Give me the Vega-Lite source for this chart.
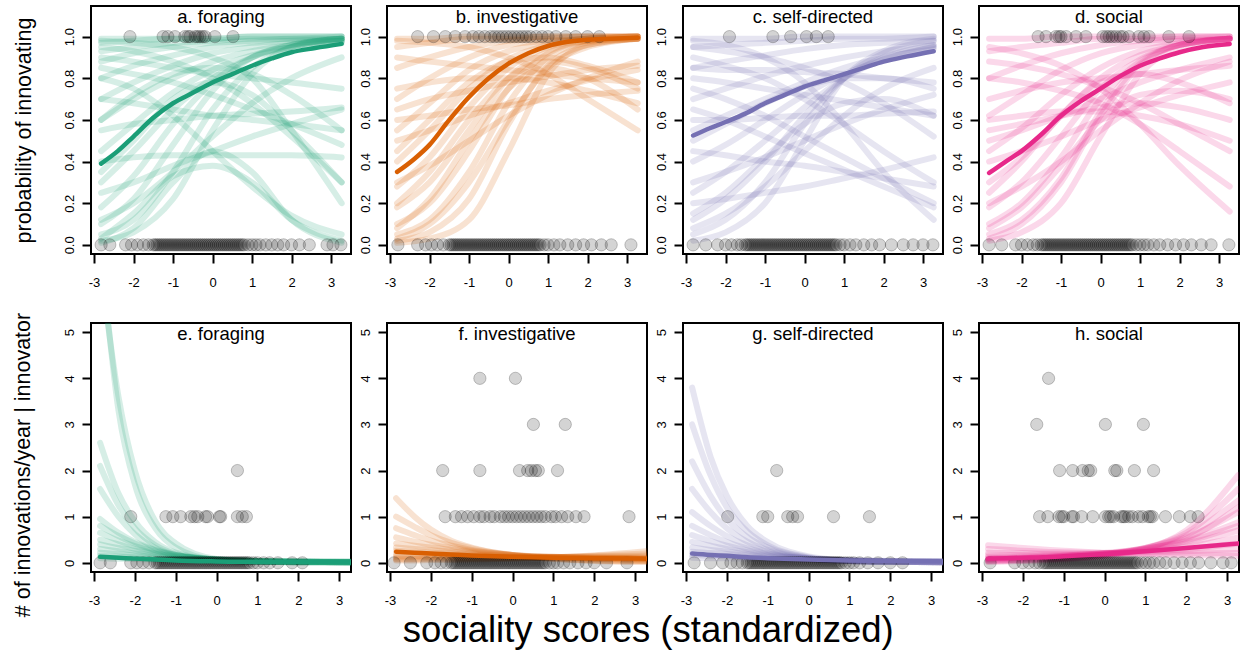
{
"$schema":"https://vega.github.io/schema/vega-lite/v6.json",
"padding":{"left":12,"top":5,"right":0,"bottom":0},
"title":{"text":"sociality scores (standardized)","orient":"bottom","anchor":"middle","fontSize":36.5,"offset":-4,"baseline":"top","dx":22,"color":"black","fontWeight":"normal","frame":"bounds"},
"datasets":{
"pa":[
{"g":1,"x":-2.82,"y":0.99},{"g":1,"x":-2,"y":0.99},{"g":1,"x":-1,"y":0.99},{"g":1,"x":0,"y":0.99},{"g":1,"x":1,"y":1},{"g":1,"x":2,"y":1},{"g":1,"x":3.27,"y":1},
{"g":2,"x":-2.82,"y":0.97},{"g":2,"x":-2,"y":0.98},{"g":2,"x":-1,"y":0.99},{"g":2,"x":0,"y":0.99},{"g":2,"x":1,"y":1},{"g":2,"x":2,"y":1},{"g":2,"x":3.27,"y":1},
{"g":3,"x":-2.82,"y":0.93},{"g":3,"x":-2,"y":0.95},{"g":3,"x":-1,"y":0.97},{"g":3,"x":0,"y":0.98},{"g":3,"x":1,"y":0.99},{"g":3,"x":2,"y":0.99},{"g":3,"x":3.27,"y":1},
{"g":4,"x":-2.82,"y":0.88},{"g":4,"x":-2,"y":0.92},{"g":4,"x":-1,"y":0.95},{"g":4,"x":0,"y":0.97},{"g":4,"x":1,"y":0.98},{"g":4,"x":2,"y":0.99},{"g":4,"x":3.27,"y":0.99},
{"g":5,"x":-2.82,"y":0.8},{"g":5,"x":-2,"y":0.86},{"g":5,"x":-1,"y":0.91},{"g":5,"x":0,"y":0.95},{"g":5,"x":1,"y":0.97},{"g":5,"x":2,"y":0.98},{"g":5,"x":3.27,"y":0.99},
{"g":6,"x":-2.82,"y":0.7},{"g":6,"x":-2,"y":0.78},{"g":6,"x":-1,"y":0.86},{"g":6,"x":0,"y":0.92},{"g":6,"x":1,"y":0.95},{"g":6,"x":2,"y":0.97},{"g":6,"x":3.27,"y":0.98},
{"g":7,"x":-2.82,"y":0.6},{"g":7,"x":-2,"y":0.7},{"g":7,"x":-1,"y":0.8},{"g":7,"x":0,"y":0.88},{"g":7,"x":1,"y":0.93},{"g":7,"x":2,"y":0.96},{"g":7,"x":3.27,"y":0.98},
{"g":8,"x":-2.82,"y":0.45},{"g":8,"x":-2,"y":0.58},{"g":8,"x":-1,"y":0.73},{"g":8,"x":0,"y":0.84},{"g":8,"x":1,"y":0.91},{"g":8,"x":2,"y":0.95},{"g":8,"x":3.27,"y":0.97},
{"g":9,"x":-2.82,"y":0.3},{"g":9,"x":-2,"y":0.45},{"g":9,"x":-1,"y":0.65},{"g":9,"x":0,"y":0.8},{"g":9,"x":1,"y":0.9},{"g":9,"x":2,"y":0.95},{"g":9,"x":3.27,"y":0.98},
{"g":10,"x":-2.82,"y":0.18},{"g":10,"x":-2,"y":0.33},{"g":10,"x":-1,"y":0.58},{"g":10,"x":0,"y":0.78},{"g":10,"x":1,"y":0.9},{"g":10,"x":2,"y":0.96},{"g":10,"x":3.27,"y":0.99},
{"g":11,"x":-2.82,"y":0.1},{"g":11,"x":-2,"y":0.22},{"g":11,"x":-1,"y":0.48},{"g":11,"x":0,"y":0.74},{"g":11,"x":1,"y":0.9},{"g":11,"x":2,"y":0.96},{"g":11,"x":3.27,"y":0.99},
{"g":12,"x":-2.82,"y":0.05},{"g":12,"x":-2,"y":0.12},{"g":12,"x":-1,"y":0.35},{"g":12,"x":0,"y":0.65},{"g":12,"x":1,"y":0.85},{"g":12,"x":2,"y":0.95},{"g":12,"x":3.27,"y":0.99},
{"g":13,"x":-2.82,"y":0.02},{"g":13,"x":-2,"y":0.06},{"g":13,"x":-1,"y":0.22},{"g":13,"x":0,"y":0.55},{"g":13,"x":1,"y":0.82},{"g":13,"x":2,"y":0.95},{"g":13,"x":3.27,"y":0.99},
{"g":14,"x":-2.82,"y":0.12},{"g":14,"x":-2,"y":0.2},{"g":14,"x":-1,"y":0.35},{"g":14,"x":0,"y":0.52},{"g":14,"x":1,"y":0.68},{"g":14,"x":2,"y":0.8},{"g":14,"x":3.27,"y":0.9},
{"g":15,"x":-2.82,"y":0.25},{"g":15,"x":-2,"y":0.3},{"g":15,"x":-1,"y":0.38},{"g":15,"x":0,"y":0.45},{"g":15,"x":1,"y":0.52},{"g":15,"x":2,"y":0.58},{"g":15,"x":3.27,"y":0.65},
{"g":16,"x":-2.82,"y":0.85},{"g":16,"x":-2,"y":0.82},{"g":16,"x":-1,"y":0.78},{"g":16,"x":0,"y":0.72},{"g":16,"x":1,"y":0.65},{"g":16,"x":2,"y":0.58},{"g":16,"x":3.27,"y":0.48},
{"g":17,"x":-2.82,"y":0.95},{"g":17,"x":-2,"y":0.93},{"g":17,"x":-1,"y":0.88},{"g":17,"x":0,"y":0.8},{"g":17,"x":1,"y":0.68},{"g":17,"x":2,"y":0.52},{"g":17,"x":3.27,"y":0.3},
{"g":18,"x":-2.82,"y":0.7},{"g":18,"x":-2,"y":0.68},{"g":18,"x":-1,"y":0.65},{"g":18,"x":0,"y":0.62},{"g":18,"x":1,"y":0.6},{"g":18,"x":2,"y":0.58},{"g":18,"x":3.27,"y":0.55},
{"g":19,"x":-2.82,"y":0.55},{"g":19,"x":-2,"y":0.58},{"g":19,"x":-1,"y":0.6},{"g":19,"x":0,"y":0.62},{"g":19,"x":1,"y":0.63},{"g":19,"x":2,"y":0.64},{"g":19,"x":3.27,"y":0.66},
{"g":20,"x":-2.82,"y":0.03},{"g":20,"x":-2,"y":0.15},{"g":20,"x":-1,"y":0.33},{"g":20,"x":0,"y":0.38},{"g":20,"x":1,"y":0.3},{"g":20,"x":2,"y":0.12},{"g":20,"x":3.27,"y":0.02},
{"g":21,"x":-2.82,"y":0.01},{"g":21,"x":-2,"y":0.08},{"g":21,"x":-1,"y":0.3},{"g":21,"x":0,"y":0.45},{"g":21,"x":1,"y":0.35},{"g":21,"x":2,"y":0.12},{"g":21,"x":3.27,"y":0.01},
{"g":22,"x":-2.82,"y":0.4},{"g":22,"x":-2,"y":0.42},{"g":22,"x":-1,"y":0.43},{"g":22,"x":0,"y":0.43},{"g":22,"x":1,"y":0.43},{"g":22,"x":2,"y":0.43},{"g":22,"x":3.27,"y":0.42},
{"g":23,"x":-2.82,"y":0.9},{"g":23,"x":-2,"y":0.88},{"g":23,"x":-1,"y":0.85},{"g":23,"x":0,"y":0.82},{"g":23,"x":1,"y":0.8},{"g":23,"x":2,"y":0.78},{"g":23,"x":3.27,"y":0.75},
{"g":24,"x":-2.82,"y":0.98},{"g":24,"x":-2,"y":0.97},{"g":24,"x":-1,"y":0.95},{"g":24,"x":0,"y":0.9},{"g":24,"x":1,"y":0.8},{"g":24,"x":2,"y":0.55},{"g":24,"x":3.27,"y":0.2},
{"g":25,"x":-2.82,"y":0.35},{"g":25,"x":-2,"y":0.5},{"g":25,"x":-1,"y":0.7},{"g":25,"x":0,"y":0.78},{"g":25,"x":1,"y":0.72},{"g":25,"x":2,"y":0.55},{"g":25,"x":3.27,"y":0.3},
{"g":26,"x":-2.82,"y":0.6},{"g":26,"x":-2,"y":0.72},{"g":26,"x":-1,"y":0.82},{"g":26,"x":0,"y":0.85},{"g":26,"x":1,"y":0.82},{"g":26,"x":2,"y":0.72},{"g":26,"x":3.27,"y":0.55},
{"g":27,"x":-2.82,"y":0.8},{"g":27,"x":-2,"y":0.75},{"g":27,"x":-1,"y":0.62},{"g":27,"x":0,"y":0.45},{"g":27,"x":1,"y":0.28},{"g":27,"x":2,"y":0.14},{"g":27,"x":3.27,"y":0.05},
{"g":0,"x":-2.82,"y":0.39},{"g":0,"x":-2.4,"y":0.45},{"g":0,"x":-2,"y":0.52},{"g":0,"x":-1.5,"y":0.61},{"g":0,"x":-1,"y":0.68},{"g":0,"x":-0.5,"y":0.73},{"g":0,"x":0,"y":0.78},{"g":0,"x":0.5,"y":0.82},{"g":0,"x":1,"y":0.86},{"g":0,"x":1.5,"y":0.895},{"g":0,"x":2,"y":0.925},{"g":0,"x":2.6,"y":0.945},{"g":0,"x":3.27,"y":0.965},
{"g":-1,"x":-2.09,"y":1},{"g":-1,"x":-1.25,"y":1},{"g":-1,"x":-1.13,"y":1},{"g":-1,"x":-0.95,"y":1},{"g":-1,"x":-0.7,"y":1},{"g":-1,"x":-0.62,"y":1},{"g":-1,"x":-0.57,"y":1},{"g":-1,"x":-0.44,"y":1},{"g":-1,"x":-0.38,"y":1},{"g":-1,"x":-0.32,"y":1},{"g":-1,"x":-0.25,"y":1},{"g":-1,"x":-0.19,"y":1},{"g":-1,"x":0.06,"y":1},{"g":-1,"x":0.52,"y":1},
{"g":-1,"x":-2.82,"y":0},{"g":-1,"x":-2.6,"y":0},{"g":-1,"x":-2.2,"y":0},{"g":-1,"x":-2.05,"y":0},{"g":-1,"x":-1.9,"y":0},{"g":-1,"x":-1.75,"y":0},{"g":-1,"x":-1.62,"y":0},
{"g":-1,"x":-1.5,"y":0},{"g":-1,"x":-1.45,"y":0},{"g":-1,"x":-1.4,"y":0},{"g":-1,"x":-1.35,"y":0},{"g":-1,"x":-1.3,"y":0},{"g":-1,"x":-1.25,"y":0},{"g":-1,"x":-1.2,"y":0},{"g":-1,"x":-1.15,"y":0},{"g":-1,"x":-1.1,"y":0},{"g":-1,"x":-1.05,"y":0},{"g":-1,"x":-1,"y":0},{"g":-1,"x":-0.95,"y":0},{"g":-1,"x":-0.9,"y":0},{"g":-1,"x":-0.85,"y":0},{"g":-1,"x":-0.8,"y":0},{"g":-1,"x":-0.75,"y":0},{"g":-1,"x":-0.7,"y":0},{"g":-1,"x":-0.65,"y":0},{"g":-1,"x":-0.6,"y":0},{"g":-1,"x":-0.55,"y":0},{"g":-1,"x":-0.5,"y":0},{"g":-1,"x":-0.45,"y":0},{"g":-1,"x":-0.4,"y":0},{"g":-1,"x":-0.35,"y":0},{"g":-1,"x":-0.3,"y":0},{"g":-1,"x":-0.25,"y":0},{"g":-1,"x":-0.2,"y":0},{"g":-1,"x":-0.15,"y":0},{"g":-1,"x":-0.1,"y":0},{"g":-1,"x":-0.05,"y":0},{"g":-1,"x":0,"y":0},{"g":-1,"x":0.05,"y":0},{"g":-1,"x":0.1,"y":0},{"g":-1,"x":0.15,"y":0},{"g":-1,"x":0.2,"y":0},{"g":-1,"x":0.25,"y":0},{"g":-1,"x":0.3,"y":0},{"g":-1,"x":0.35,"y":0},{"g":-1,"x":0.4,"y":0},{"g":-1,"x":0.45,"y":0},{"g":-1,"x":0.5,"y":0},{"g":-1,"x":0.55,"y":0},{"g":-1,"x":0.6,"y":0},{"g":-1,"x":0.65,"y":0},{"g":-1,"x":0.7,"y":0},{"g":-1,"x":0.75,"y":0},{"g":-1,"x":0.8,"y":0},
{"g":-1,"x":0.9,"y":0},{"g":-1,"x":1,"y":0},{"g":-1,"x":1.1,"y":0},{"g":-1,"x":1.2,"y":0},{"g":-1,"x":1.35,"y":0},{"g":-1,"x":1.5,"y":0},{"g":-1,"x":1.65,"y":0},{"g":-1,"x":1.8,"y":0},{"g":-1,"x":2,"y":0},{"g":-1,"x":2.2,"y":0},{"g":-1,"x":2.45,"y":0},{"g":-1,"x":2.9,"y":0},{"g":-1,"x":3.05,"y":0},{"g":-1,"x":3.25,"y":0}
],
"pb":[
{"g":1,"x":-2.82,"y":0.99},{"g":1,"x":-2,"y":0.99},{"g":1,"x":-1,"y":1},{"g":1,"x":0,"y":1},{"g":1,"x":1,"y":1},{"g":1,"x":2,"y":1},{"g":1,"x":3.27,"y":1},
{"g":2,"x":-2.82,"y":0.95},{"g":2,"x":-2,"y":0.97},{"g":2,"x":-1,"y":0.99},{"g":2,"x":0,"y":0.99},{"g":2,"x":1,"y":1},{"g":2,"x":2,"y":1},{"g":2,"x":3.27,"y":1},
{"g":3,"x":-2.82,"y":0.85},{"g":3,"x":-2,"y":0.9},{"g":3,"x":-1,"y":0.95},{"g":3,"x":0,"y":0.98},{"g":3,"x":1,"y":0.99},{"g":3,"x":2,"y":1},{"g":3,"x":3.27,"y":1},
{"g":4,"x":-2.82,"y":0.7},{"g":4,"x":-2,"y":0.8},{"g":4,"x":-1,"y":0.9},{"g":4,"x":0,"y":0.96},{"g":4,"x":1,"y":0.98},{"g":4,"x":2,"y":0.99},{"g":4,"x":3.27,"y":1},
{"g":5,"x":-2.82,"y":0.55},{"g":5,"x":-2,"y":0.68},{"g":5,"x":-1,"y":0.84},{"g":5,"x":0,"y":0.93},{"g":5,"x":1,"y":0.97},{"g":5,"x":2,"y":0.99},{"g":5,"x":3.27,"y":1},
{"g":6,"x":-2.82,"y":0.4},{"g":6,"x":-2,"y":0.55},{"g":6,"x":-1,"y":0.75},{"g":6,"x":0,"y":0.89},{"g":6,"x":1,"y":0.96},{"g":6,"x":2,"y":0.99},{"g":6,"x":3.27,"y":1},
{"g":7,"x":-2.82,"y":0.28},{"g":7,"x":-2,"y":0.42},{"g":7,"x":-1,"y":0.66},{"g":7,"x":0,"y":0.85},{"g":7,"x":1,"y":0.95},{"g":7,"x":2,"y":0.98},{"g":7,"x":3.27,"y":0.99},
{"g":8,"x":-2.82,"y":0.18},{"g":8,"x":-2,"y":0.3},{"g":8,"x":-1,"y":0.55},{"g":8,"x":0,"y":0.8},{"g":8,"x":1,"y":0.93},{"g":8,"x":2,"y":0.98},{"g":8,"x":3.27,"y":0.99},
{"g":9,"x":-2.82,"y":0.1},{"g":9,"x":-2,"y":0.2},{"g":9,"x":-1,"y":0.45},{"g":9,"x":0,"y":0.75},{"g":9,"x":1,"y":0.92},{"g":9,"x":2,"y":0.98},{"g":9,"x":3.27,"y":1},
{"g":10,"x":-2.82,"y":0.05},{"g":10,"x":-2,"y":0.12},{"g":10,"x":-1,"y":0.35},{"g":10,"x":0,"y":0.68},{"g":10,"x":1,"y":0.9},{"g":10,"x":2,"y":0.97},{"g":10,"x":3.27,"y":0.99},
{"g":11,"x":-2.82,"y":0.02},{"g":11,"x":-2,"y":0.06},{"g":11,"x":-1,"y":0.22},{"g":11,"x":0,"y":0.58},{"g":11,"x":1,"y":0.86},{"g":11,"x":2,"y":0.96},{"g":11,"x":3.27,"y":0.99},
{"g":12,"x":-2.82,"y":0.01},{"g":12,"x":-2,"y":0.03},{"g":12,"x":-1,"y":0.12},{"g":12,"x":0,"y":0.45},{"g":12,"x":1,"y":0.82},{"g":12,"x":2,"y":0.96},{"g":12,"x":3.27,"y":0.99},
{"g":13,"x":-2.82,"y":0.3},{"g":13,"x":-2,"y":0.38},{"g":13,"x":-1,"y":0.5},{"g":13,"x":0,"y":0.62},{"g":13,"x":1,"y":0.72},{"g":13,"x":2,"y":0.8},{"g":13,"x":3.27,"y":0.88},
{"g":14,"x":-2.82,"y":0.5},{"g":14,"x":-2,"y":0.55},{"g":14,"x":-1,"y":0.62},{"g":14,"x":0,"y":0.68},{"g":14,"x":1,"y":0.74},{"g":14,"x":2,"y":0.79},{"g":14,"x":3.27,"y":0.84},
{"g":15,"x":-2.82,"y":0.65},{"g":15,"x":-2,"y":0.7},{"g":15,"x":-1,"y":0.74},{"g":15,"x":0,"y":0.78},{"g":15,"x":1,"y":0.81},{"g":15,"x":2,"y":0.84},{"g":15,"x":3.27,"y":0.86},
{"g":16,"x":-2.82,"y":0.9},{"g":16,"x":-2,"y":0.88},{"g":16,"x":-1,"y":0.86},{"g":16,"x":0,"y":0.84},{"g":16,"x":1,"y":0.82},{"g":16,"x":2,"y":0.8},{"g":16,"x":3.27,"y":0.78},
{"g":17,"x":-2.82,"y":0.75},{"g":17,"x":-2,"y":0.78},{"g":17,"x":-1,"y":0.8},{"g":17,"x":0,"y":0.8},{"g":17,"x":1,"y":0.78},{"g":17,"x":2,"y":0.74},{"g":17,"x":3.27,"y":0.68},
{"g":18,"x":-2.82,"y":0.98},{"g":18,"x":-2,"y":0.97},{"g":18,"x":-1,"y":0.95},{"g":18,"x":0,"y":0.9},{"g":18,"x":1,"y":0.82},{"g":18,"x":2,"y":0.7},{"g":18,"x":3.27,"y":0.55},
{"g":19,"x":-2.82,"y":0.2},{"g":19,"x":-2,"y":0.35},{"g":19,"x":-1,"y":0.6},{"g":19,"x":0,"y":0.8},{"g":19,"x":1,"y":0.88},{"g":19,"x":2,"y":0.85},{"g":19,"x":3.27,"y":0.75},
{"g":20,"x":-2.82,"y":0.08},{"g":20,"x":-2,"y":0.22},{"g":20,"x":-1,"y":0.5},{"g":20,"x":0,"y":0.75},{"g":20,"x":1,"y":0.85},{"g":20,"x":2,"y":0.8},{"g":20,"x":3.27,"y":0.65},
{"g":21,"x":-2.82,"y":0.45},{"g":21,"x":-2,"y":0.6},{"g":21,"x":-1,"y":0.78},{"g":21,"x":0,"y":0.88},{"g":21,"x":1,"y":0.9},{"g":21,"x":2,"y":0.86},{"g":21,"x":3.27,"y":0.78},
{"g":22,"x":-2.82,"y":0.6},{"g":22,"x":-2,"y":0.62},{"g":22,"x":-1,"y":0.65},{"g":22,"x":0,"y":0.67},{"g":22,"x":1,"y":0.7},{"g":22,"x":2,"y":0.72},{"g":22,"x":3.27,"y":0.74},
{"g":23,"x":-2.82,"y":0.03},{"g":23,"x":-2,"y":0.1},{"g":23,"x":-1,"y":0.3},{"g":23,"x":0,"y":0.6},{"g":23,"x":1,"y":0.85},{"g":23,"x":2,"y":0.95},{"g":23,"x":3.27,"y":0.99},
{"g":0,"x":-2.82,"y":0.35},{"g":0,"x":-2.4,"y":0.41},{"g":0,"x":-2,"y":0.48},{"g":0,"x":-1.5,"y":0.6},{"g":0,"x":-1,"y":0.71},{"g":0,"x":-0.5,"y":0.8},{"g":0,"x":0,"y":0.87},{"g":0,"x":0.5,"y":0.92},{"g":0,"x":1,"y":0.955},{"g":0,"x":1.5,"y":0.975},{"g":0,"x":2,"y":0.985},{"g":0,"x":2.6,"y":0.99},{"g":0,"x":3.27,"y":0.995},
{"g":-1,"x":-2.3,"y":1},{"g":-1,"x":-1.9,"y":1},{"g":-1,"x":-1.6,"y":1},{"g":-1,"x":-1.35,"y":1},{"g":-1,"x":-1.1,"y":1},{"g":-1,"x":-0.9,"y":1},{"g":-1,"x":-0.75,"y":1},{"g":-1,"x":-0.6,"y":1},{"g":-1,"x":-0.45,"y":1},{"g":-1,"x":-0.35,"y":1},{"g":-1,"x":-0.25,"y":1},{"g":-1,"x":-0.15,"y":1},{"g":-1,"x":-0.05,"y":1},{"g":-1,"x":0.05,"y":1},{"g":-1,"x":0.15,"y":1},{"g":-1,"x":0.25,"y":1},{"g":-1,"x":0.35,"y":1},{"g":-1,"x":0.45,"y":1},{"g":-1,"x":0.55,"y":1},{"g":-1,"x":0.7,"y":1},{"g":-1,"x":0.85,"y":1},{"g":-1,"x":1,"y":1},{"g":-1,"x":1.2,"y":1},{"g":-1,"x":1.45,"y":1},{"g":-1,"x":1.7,"y":1},{"g":-1,"x":2,"y":1},{"g":-1,"x":2.3,"y":1},
{"g":-1,"x":-2.8,"y":0},{"g":-1,"x":-2.3,"y":0},{"g":-1,"x":-2.1,"y":0},{"g":-1,"x":-1.95,"y":0},{"g":-1,"x":-1.8,"y":0},{"g":-1,"x":-1.65,"y":0},
{"g":-1,"x":-1.5,"y":0},{"g":-1,"x":-1.45,"y":0},{"g":-1,"x":-1.4,"y":0},{"g":-1,"x":-1.35,"y":0},{"g":-1,"x":-1.3,"y":0},{"g":-1,"x":-1.25,"y":0},{"g":-1,"x":-1.2,"y":0},{"g":-1,"x":-1.15,"y":0},{"g":-1,"x":-1.1,"y":0},{"g":-1,"x":-1.05,"y":0},{"g":-1,"x":-1,"y":0},{"g":-1,"x":-0.95,"y":0},{"g":-1,"x":-0.9,"y":0},{"g":-1,"x":-0.85,"y":0},{"g":-1,"x":-0.8,"y":0},{"g":-1,"x":-0.75,"y":0},{"g":-1,"x":-0.7,"y":0},{"g":-1,"x":-0.65,"y":0},{"g":-1,"x":-0.6,"y":0},{"g":-1,"x":-0.55,"y":0},{"g":-1,"x":-0.5,"y":0},{"g":-1,"x":-0.45,"y":0},{"g":-1,"x":-0.4,"y":0},{"g":-1,"x":-0.35,"y":0},{"g":-1,"x":-0.3,"y":0},{"g":-1,"x":-0.25,"y":0},{"g":-1,"x":-0.2,"y":0},{"g":-1,"x":-0.15,"y":0},{"g":-1,"x":-0.1,"y":0},{"g":-1,"x":-0.05,"y":0},{"g":-1,"x":0,"y":0},{"g":-1,"x":0.05,"y":0},{"g":-1,"x":0.1,"y":0},{"g":-1,"x":0.15,"y":0},{"g":-1,"x":0.2,"y":0},{"g":-1,"x":0.25,"y":0},{"g":-1,"x":0.3,"y":0},{"g":-1,"x":0.35,"y":0},{"g":-1,"x":0.4,"y":0},{"g":-1,"x":0.45,"y":0},{"g":-1,"x":0.5,"y":0},{"g":-1,"x":0.55,"y":0},{"g":-1,"x":0.6,"y":0},{"g":-1,"x":0.65,"y":0},{"g":-1,"x":0.7,"y":0},{"g":-1,"x":0.75,"y":0},{"g":-1,"x":0.8,"y":0},
{"g":-1,"x":0.9,"y":0},{"g":-1,"x":1,"y":0},{"g":-1,"x":1.15,"y":0},{"g":-1,"x":1.3,"y":0},{"g":-1,"x":1.5,"y":0},{"g":-1,"x":1.7,"y":0},{"g":-1,"x":1.9,"y":0},{"g":-1,"x":2.1,"y":0},{"g":-1,"x":2.35,"y":0},{"g":-1,"x":2.6,"y":0},{"g":-1,"x":3.1,"y":0}
],
"pc":[
{"g":1,"x":-2.82,"y":0.99},{"g":1,"x":-2,"y":0.99},{"g":1,"x":-1,"y":0.99},{"g":1,"x":0,"y":1},{"g":1,"x":1,"y":1},{"g":1,"x":2,"y":1},{"g":1,"x":3.27,"y":1},
{"g":2,"x":-2.82,"y":0.95},{"g":2,"x":-2,"y":0.96},{"g":2,"x":-1,"y":0.97},{"g":2,"x":0,"y":0.98},{"g":2,"x":1,"y":0.99},{"g":2,"x":2,"y":0.99},{"g":2,"x":3.27,"y":1},
{"g":3,"x":-2.82,"y":0.85},{"g":3,"x":-2,"y":0.88},{"g":3,"x":-1,"y":0.91},{"g":3,"x":0,"y":0.94},{"g":3,"x":1,"y":0.96},{"g":3,"x":2,"y":0.97},{"g":3,"x":3.27,"y":0.98},
{"g":4,"x":-2.82,"y":0.7},{"g":4,"x":-2,"y":0.75},{"g":4,"x":-1,"y":0.81},{"g":4,"x":0,"y":0.86},{"g":4,"x":1,"y":0.9},{"g":4,"x":2,"y":0.93},{"g":4,"x":3.27,"y":0.96},
{"g":5,"x":-2.82,"y":0.55},{"g":5,"x":-2,"y":0.62},{"g":5,"x":-1,"y":0.7},{"g":5,"x":0,"y":0.78},{"g":5,"x":1,"y":0.85},{"g":5,"x":2,"y":0.9},{"g":5,"x":3.27,"y":0.94},
{"g":6,"x":-2.82,"y":0.4},{"g":6,"x":-2,"y":0.48},{"g":6,"x":-1,"y":0.6},{"g":6,"x":0,"y":0.72},{"g":6,"x":1,"y":0.82},{"g":6,"x":2,"y":0.89},{"g":6,"x":3.27,"y":0.95},
{"g":7,"x":-2.82,"y":0.25},{"g":7,"x":-2,"y":0.35},{"g":7,"x":-1,"y":0.5},{"g":7,"x":0,"y":0.66},{"g":7,"x":1,"y":0.8},{"g":7,"x":2,"y":0.89},{"g":7,"x":3.27,"y":0.95},
{"g":8,"x":-2.82,"y":0.12},{"g":8,"x":-2,"y":0.22},{"g":8,"x":-1,"y":0.4},{"g":8,"x":0,"y":0.62},{"g":8,"x":1,"y":0.8},{"g":8,"x":2,"y":0.9},{"g":8,"x":3.27,"y":0.96},
{"g":9,"x":-2.82,"y":0.05},{"g":9,"x":-2,"y":0.12},{"g":9,"x":-1,"y":0.3},{"g":9,"x":0,"y":0.58},{"g":9,"x":1,"y":0.8},{"g":9,"x":2,"y":0.92},{"g":9,"x":3.27,"y":0.98},
{"g":10,"x":-2.82,"y":0.02},{"g":10,"x":-2,"y":0.06},{"g":10,"x":-1,"y":0.2},{"g":10,"x":0,"y":0.5},{"g":10,"x":1,"y":0.8},{"g":10,"x":2,"y":0.93},{"g":10,"x":3.27,"y":0.99},
{"g":11,"x":-2.82,"y":0.3},{"g":11,"x":-2,"y":0.35},{"g":11,"x":-1,"y":0.42},{"g":11,"x":0,"y":0.5},{"g":11,"x":1,"y":0.58},{"g":11,"x":2,"y":0.65},{"g":11,"x":3.27,"y":0.72},
{"g":12,"x":-2.82,"y":0.6},{"g":12,"x":-2,"y":0.6},{"g":12,"x":-1,"y":0.61},{"g":12,"x":0,"y":0.62},{"g":12,"x":1,"y":0.62},{"g":12,"x":2,"y":0.63},{"g":12,"x":3.27,"y":0.64},
{"g":13,"x":-2.82,"y":0.8},{"g":13,"x":-2,"y":0.78},{"g":13,"x":-1,"y":0.75},{"g":13,"x":0,"y":0.72},{"g":13,"x":1,"y":0.69},{"g":13,"x":2,"y":0.66},{"g":13,"x":3.27,"y":0.62},
{"g":14,"x":-2.82,"y":0.95},{"g":14,"x":-2,"y":0.93},{"g":14,"x":-1,"y":0.9},{"g":14,"x":0,"y":0.85},{"g":14,"x":1,"y":0.78},{"g":14,"x":2,"y":0.68},{"g":14,"x":3.27,"y":0.52},
{"g":15,"x":-2.82,"y":0.9},{"g":15,"x":-2,"y":0.86},{"g":15,"x":-1,"y":0.8},{"g":15,"x":0,"y":0.7},{"g":15,"x":1,"y":0.58},{"g":15,"x":2,"y":0.45},{"g":15,"x":3.27,"y":0.3},
{"g":16,"x":-2.82,"y":0.75},{"g":16,"x":-2,"y":0.7},{"g":16,"x":-1,"y":0.62},{"g":16,"x":0,"y":0.52},{"g":16,"x":1,"y":0.42},{"g":16,"x":2,"y":0.32},{"g":16,"x":3.27,"y":0.2},
{"g":17,"x":-2.82,"y":0.65},{"g":17,"x":-2,"y":0.6},{"g":17,"x":-1,"y":0.52},{"g":17,"x":0,"y":0.44},{"g":17,"x":1,"y":0.36},{"g":17,"x":2,"y":0.28},{"g":17,"x":3.27,"y":0.18},
{"g":18,"x":-2.82,"y":0.45},{"g":18,"x":-2,"y":0.43},{"g":18,"x":-1,"y":0.4},{"g":18,"x":0,"y":0.38},{"g":18,"x":1,"y":0.35},{"g":18,"x":2,"y":0.32},{"g":18,"x":3.27,"y":0.28},
{"g":19,"x":-2.82,"y":0.98},{"g":19,"x":-2,"y":0.96},{"g":19,"x":-1,"y":0.9},{"g":19,"x":0,"y":0.78},{"g":19,"x":1,"y":0.58},{"g":19,"x":2,"y":0.35},{"g":19,"x":3.27,"y":0.12},
{"g":20,"x":-2.82,"y":0.15},{"g":20,"x":-2,"y":0.25},{"g":20,"x":-1,"y":0.42},{"g":20,"x":0,"y":0.58},{"g":20,"x":1,"y":0.68},{"g":20,"x":2,"y":0.7},{"g":20,"x":3.27,"y":0.62},
{"g":21,"x":-2.82,"y":0.5},{"g":21,"x":-2,"y":0.58},{"g":21,"x":-1,"y":0.68},{"g":21,"x":0,"y":0.76},{"g":21,"x":1,"y":0.8},{"g":21,"x":2,"y":0.8},{"g":21,"x":3.27,"y":0.75},
{"g":22,"x":-2.82,"y":0.85},{"g":22,"x":-2,"y":0.84},{"g":22,"x":-1,"y":0.84},{"g":22,"x":0,"y":0.83},{"g":22,"x":1,"y":0.82},{"g":22,"x":2,"y":0.8},{"g":22,"x":3.27,"y":0.78},
{"g":23,"x":-2.82,"y":0.2},{"g":23,"x":-2,"y":0.22},{"g":23,"x":-1,"y":0.25},{"g":23,"x":0,"y":0.28},{"g":23,"x":1,"y":0.32},{"g":23,"x":2,"y":0.36},{"g":23,"x":3.27,"y":0.42},
{"g":24,"x":-2.82,"y":0.08},{"g":24,"x":-2,"y":0.15},{"g":24,"x":-1,"y":0.28},{"g":24,"x":0,"y":0.45},{"g":24,"x":1,"y":0.62},{"g":24,"x":2,"y":0.75},{"g":24,"x":3.27,"y":0.85},
{"g":0,"x":-2.82,"y":0.525},{"g":0,"x":-2.4,"y":0.56},{"g":0,"x":-2,"y":0.59},{"g":0,"x":-1.5,"y":0.63},{"g":0,"x":-1,"y":0.68},{"g":0,"x":-0.5,"y":0.72},{"g":0,"x":0,"y":0.76},{"g":0,"x":0.5,"y":0.79},{"g":0,"x":1,"y":0.82},{"g":0,"x":1.5,"y":0.85},{"g":0,"x":2,"y":0.88},{"g":0,"x":2.6,"y":0.905},{"g":0,"x":3.27,"y":0.93},
{"g":-1,"x":-1.9,"y":1},{"g":-1,"x":-0.8,"y":1},{"g":-1,"x":-0.35,"y":1},{"g":-1,"x":0.05,"y":1},{"g":-1,"x":0.3,"y":1},{"g":-1,"x":0.6,"y":1},
{"g":-1,"x":-2.82,"y":0},{"g":-1,"x":-2.5,"y":0},{"g":-1,"x":-2.2,"y":0},{"g":-1,"x":-2,"y":0},{"g":-1,"x":-1.85,"y":0},{"g":-1,"x":-1.7,"y":0},{"g":-1,"x":-1.6,"y":0},
{"g":-1,"x":-1.5,"y":0},{"g":-1,"x":-1.45,"y":0},{"g":-1,"x":-1.4,"y":0},{"g":-1,"x":-1.35,"y":0},{"g":-1,"x":-1.3,"y":0},{"g":-1,"x":-1.25,"y":0},{"g":-1,"x":-1.2,"y":0},{"g":-1,"x":-1.15,"y":0},{"g":-1,"x":-1.1,"y":0},{"g":-1,"x":-1.05,"y":0},{"g":-1,"x":-1,"y":0},{"g":-1,"x":-0.95,"y":0},{"g":-1,"x":-0.9,"y":0},{"g":-1,"x":-0.85,"y":0},{"g":-1,"x":-0.8,"y":0},{"g":-1,"x":-0.75,"y":0},{"g":-1,"x":-0.7,"y":0},{"g":-1,"x":-0.65,"y":0},{"g":-1,"x":-0.6,"y":0},{"g":-1,"x":-0.55,"y":0},{"g":-1,"x":-0.5,"y":0},{"g":-1,"x":-0.45,"y":0},{"g":-1,"x":-0.4,"y":0},{"g":-1,"x":-0.35,"y":0},{"g":-1,"x":-0.3,"y":0},{"g":-1,"x":-0.25,"y":0},{"g":-1,"x":-0.2,"y":0},{"g":-1,"x":-0.15,"y":0},{"g":-1,"x":-0.1,"y":0},{"g":-1,"x":-0.05,"y":0},{"g":-1,"x":0,"y":0},{"g":-1,"x":0.05,"y":0},{"g":-1,"x":0.1,"y":0},{"g":-1,"x":0.15,"y":0},{"g":-1,"x":0.2,"y":0},{"g":-1,"x":0.25,"y":0},{"g":-1,"x":0.3,"y":0},{"g":-1,"x":0.35,"y":0},{"g":-1,"x":0.4,"y":0},{"g":-1,"x":0.45,"y":0},{"g":-1,"x":0.5,"y":0},{"g":-1,"x":0.55,"y":0},{"g":-1,"x":0.6,"y":0},{"g":-1,"x":0.65,"y":0},{"g":-1,"x":0.7,"y":0},{"g":-1,"x":0.75,"y":0},{"g":-1,"x":0.8,"y":0},
{"g":-1,"x":0.9,"y":0},{"g":-1,"x":1,"y":0},{"g":-1,"x":1.15,"y":0},{"g":-1,"x":1.3,"y":0},{"g":-1,"x":1.5,"y":0},{"g":-1,"x":1.7,"y":0},{"g":-1,"x":1.9,"y":0},{"g":-1,"x":2.2,"y":0},{"g":-1,"x":2.5,"y":0},{"g":-1,"x":2.75,"y":0},{"g":-1,"x":3,"y":0},{"g":-1,"x":3.25,"y":0}
],
"pd":[
{"g":1,"x":-2.82,"y":0.99},{"g":1,"x":-2,"y":0.99},{"g":1,"x":-1,"y":1},{"g":1,"x":0,"y":1},{"g":1,"x":1,"y":1},{"g":1,"x":2,"y":1},{"g":1,"x":3.27,"y":1},
{"g":2,"x":-2.82,"y":0.93},{"g":2,"x":-2,"y":0.95},{"g":2,"x":-1,"y":0.97},{"g":2,"x":0,"y":0.99},{"g":2,"x":1,"y":0.99},{"g":2,"x":2,"y":1},{"g":2,"x":3.27,"y":1},
{"g":3,"x":-2.82,"y":0.8},{"g":3,"x":-2,"y":0.86},{"g":3,"x":-1,"y":0.92},{"g":3,"x":0,"y":0.96},{"g":3,"x":1,"y":0.98},{"g":3,"x":2,"y":0.99},{"g":3,"x":3.27,"y":1},
{"g":4,"x":-2.82,"y":0.62},{"g":4,"x":-2,"y":0.72},{"g":4,"x":-1,"y":0.84},{"g":4,"x":0,"y":0.92},{"g":4,"x":1,"y":0.96},{"g":4,"x":2,"y":0.98},{"g":4,"x":3.27,"y":0.99},
{"g":5,"x":-2.82,"y":0.45},{"g":5,"x":-2,"y":0.56},{"g":5,"x":-1,"y":0.72},{"g":5,"x":0,"y":0.85},{"g":5,"x":1,"y":0.93},{"g":5,"x":2,"y":0.97},{"g":5,"x":3.27,"y":0.99},
{"g":6,"x":-2.82,"y":0.3},{"g":6,"x":-2,"y":0.42},{"g":6,"x":-1,"y":0.62},{"g":6,"x":0,"y":0.8},{"g":6,"x":1,"y":0.91},{"g":6,"x":2,"y":0.96},{"g":6,"x":3.27,"y":0.99},
{"g":7,"x":-2.82,"y":0.18},{"g":7,"x":-2,"y":0.3},{"g":7,"x":-1,"y":0.52},{"g":7,"x":0,"y":0.75},{"g":7,"x":1,"y":0.89},{"g":7,"x":2,"y":0.96},{"g":7,"x":3.27,"y":0.99},
{"g":8,"x":-2.82,"y":0.1},{"g":8,"x":-2,"y":0.2},{"g":8,"x":-1,"y":0.42},{"g":8,"x":0,"y":0.7},{"g":8,"x":1,"y":0.88},{"g":8,"x":2,"y":0.96},{"g":8,"x":3.27,"y":0.99},
{"g":9,"x":-2.82,"y":0.05},{"g":9,"x":-2,"y":0.12},{"g":9,"x":-1,"y":0.32},{"g":9,"x":0,"y":0.64},{"g":9,"x":1,"y":0.87},{"g":9,"x":2,"y":0.96},{"g":9,"x":3.27,"y":0.99},
{"g":10,"x":-2.82,"y":0.02},{"g":10,"x":-2,"y":0.06},{"g":10,"x":-1,"y":0.2},{"g":10,"x":0,"y":0.52},{"g":10,"x":1,"y":0.82},{"g":10,"x":2,"y":0.95},{"g":10,"x":3.27,"y":0.99},
{"g":11,"x":-2.82,"y":0.2},{"g":11,"x":-2,"y":0.28},{"g":11,"x":-1,"y":0.4},{"g":11,"x":0,"y":0.55},{"g":11,"x":1,"y":0.68},{"g":11,"x":2,"y":0.79},{"g":11,"x":3.27,"y":0.88},
{"g":12,"x":-2.82,"y":0.4},{"g":12,"x":-2,"y":0.45},{"g":12,"x":-1,"y":0.52},{"g":12,"x":0,"y":0.6},{"g":12,"x":1,"y":0.66},{"g":12,"x":2,"y":0.72},{"g":12,"x":3.27,"y":0.78},
{"g":13,"x":-2.82,"y":0.7},{"g":13,"x":-2,"y":0.74},{"g":13,"x":-1,"y":0.78},{"g":13,"x":0,"y":0.8},{"g":13,"x":1,"y":0.82},{"g":13,"x":2,"y":0.84},{"g":13,"x":3.27,"y":0.86},
{"g":14,"x":-2.82,"y":0.88},{"g":14,"x":-2,"y":0.86},{"g":14,"x":-1,"y":0.82},{"g":14,"x":0,"y":0.76},{"g":14,"x":1,"y":0.68},{"g":14,"x":2,"y":0.58},{"g":14,"x":3.27,"y":0.45},
{"g":15,"x":-2.82,"y":0.8},{"g":15,"x":-2,"y":0.78},{"g":15,"x":-1,"y":0.74},{"g":15,"x":0,"y":0.68},{"g":15,"x":1,"y":0.58},{"g":15,"x":2,"y":0.45},{"g":15,"x":3.27,"y":0.28},
{"g":16,"x":-2.82,"y":0.95},{"g":16,"x":-2,"y":0.92},{"g":16,"x":-1,"y":0.86},{"g":16,"x":0,"y":0.75},{"g":16,"x":1,"y":0.58},{"g":16,"x":2,"y":0.38},{"g":16,"x":3.27,"y":0.16},
{"g":17,"x":-2.82,"y":0.6},{"g":17,"x":-2,"y":0.62},{"g":17,"x":-1,"y":0.64},{"g":17,"x":0,"y":0.64},{"g":17,"x":1,"y":0.62},{"g":17,"x":2,"y":0.58},{"g":17,"x":3.27,"y":0.5},
{"g":18,"x":-2.82,"y":0.55},{"g":18,"x":-2,"y":0.58},{"g":18,"x":-1,"y":0.62},{"g":18,"x":0,"y":0.66},{"g":18,"x":1,"y":0.68},{"g":18,"x":2,"y":0.66},{"g":18,"x":3.27,"y":0.6},
{"g":19,"x":-2.82,"y":0.08},{"g":19,"x":-2,"y":0.18},{"g":19,"x":-1,"y":0.38},{"g":19,"x":0,"y":0.6},{"g":19,"x":1,"y":0.72},{"g":19,"x":2,"y":0.74},{"g":19,"x":3.27,"y":0.7},
{"g":20,"x":-2.82,"y":0.25},{"g":20,"x":-2,"y":0.4},{"g":20,"x":-1,"y":0.62},{"g":20,"x":0,"y":0.78},{"g":20,"x":1,"y":0.82},{"g":20,"x":2,"y":0.78},{"g":20,"x":3.27,"y":0.68},
{"g":21,"x":-2.82,"y":0.5},{"g":21,"x":-2,"y":0.55},{"g":21,"x":-1,"y":0.62},{"g":21,"x":0,"y":0.7},{"g":21,"x":1,"y":0.78},{"g":21,"x":2,"y":0.84},{"g":21,"x":3.27,"y":0.9},
{"g":22,"x":-2.82,"y":0.03},{"g":22,"x":-2,"y":0.1},{"g":22,"x":-1,"y":0.3},{"g":22,"x":0,"y":0.62},{"g":22,"x":1,"y":0.86},{"g":22,"x":2,"y":0.96},{"g":22,"x":3.27,"y":0.99},
{"g":0,"x":-2.82,"y":0.345},{"g":0,"x":-2.4,"y":0.4},{"g":0,"x":-2,"y":0.45},{"g":0,"x":-1.5,"y":0.53},{"g":0,"x":-1,"y":0.62},{"g":0,"x":-0.5,"y":0.69},{"g":0,"x":0,"y":0.75},{"g":0,"x":0.5,"y":0.81},{"g":0,"x":1,"y":0.86},{"g":0,"x":1.5,"y":0.895},{"g":0,"x":2,"y":0.925},{"g":0,"x":2.6,"y":0.95},{"g":0,"x":3.27,"y":0.965},
{"g":-1,"x":-1.58,"y":1},{"g":-1,"x":-1.38,"y":1},{"g":-1,"x":-1.13,"y":1},{"g":-1,"x":-1.05,"y":1},{"g":-1,"x":-1,"y":1},{"g":-1,"x":-0.87,"y":1},{"g":-1,"x":-0.62,"y":1},{"g":-1,"x":-0.37,"y":1},{"g":-1,"x":0.06,"y":1},{"g":-1,"x":0.15,"y":1},{"g":-1,"x":0.22,"y":1},{"g":-1,"x":0.3,"y":1},{"g":-1,"x":0.39,"y":1},{"g":-1,"x":0.5,"y":1},{"g":-1,"x":0.57,"y":1},{"g":-1,"x":0.72,"y":1},{"g":-1,"x":0.97,"y":1},{"g":-1,"x":1.1,"y":1},{"g":-1,"x":1.23,"y":1},{"g":-1,"x":1.73,"y":1},{"g":-1,"x":2.24,"y":1},
{"g":-1,"x":-2.82,"y":0},{"g":-1,"x":-2.5,"y":0},{"g":-1,"x":-2.15,"y":0},{"g":-1,"x":-2,"y":0},{"g":-1,"x":-1.85,"y":0},{"g":-1,"x":-1.7,"y":0},{"g":-1,"x":-1.6,"y":0},
{"g":-1,"x":-1.5,"y":0},{"g":-1,"x":-1.45,"y":0},{"g":-1,"x":-1.4,"y":0},{"g":-1,"x":-1.35,"y":0},{"g":-1,"x":-1.3,"y":0},{"g":-1,"x":-1.25,"y":0},{"g":-1,"x":-1.2,"y":0},{"g":-1,"x":-1.15,"y":0},{"g":-1,"x":-1.1,"y":0},{"g":-1,"x":-1.05,"y":0},{"g":-1,"x":-1,"y":0},{"g":-1,"x":-0.95,"y":0},{"g":-1,"x":-0.9,"y":0},{"g":-1,"x":-0.85,"y":0},{"g":-1,"x":-0.8,"y":0},{"g":-1,"x":-0.75,"y":0},{"g":-1,"x":-0.7,"y":0},{"g":-1,"x":-0.65,"y":0},{"g":-1,"x":-0.6,"y":0},{"g":-1,"x":-0.55,"y":0},{"g":-1,"x":-0.5,"y":0},{"g":-1,"x":-0.45,"y":0},{"g":-1,"x":-0.4,"y":0},{"g":-1,"x":-0.35,"y":0},{"g":-1,"x":-0.3,"y":0},{"g":-1,"x":-0.25,"y":0},{"g":-1,"x":-0.2,"y":0},{"g":-1,"x":-0.15,"y":0},{"g":-1,"x":-0.1,"y":0},{"g":-1,"x":-0.05,"y":0},{"g":-1,"x":0,"y":0},{"g":-1,"x":0.05,"y":0},{"g":-1,"x":0.1,"y":0},{"g":-1,"x":0.15,"y":0},{"g":-1,"x":0.2,"y":0},{"g":-1,"x":0.25,"y":0},{"g":-1,"x":0.3,"y":0},{"g":-1,"x":0.35,"y":0},{"g":-1,"x":0.4,"y":0},{"g":-1,"x":0.45,"y":0},{"g":-1,"x":0.5,"y":0},{"g":-1,"x":0.55,"y":0},{"g":-1,"x":0.6,"y":0},{"g":-1,"x":0.65,"y":0},{"g":-1,"x":0.7,"y":0},{"g":-1,"x":0.75,"y":0},{"g":-1,"x":0.8,"y":0},
{"g":-1,"x":0.9,"y":0},{"g":-1,"x":1,"y":0},{"g":-1,"x":1.1,"y":0},{"g":-1,"x":1.2,"y":0},{"g":-1,"x":1.35,"y":0},{"g":-1,"x":1.5,"y":0},{"g":-1,"x":1.7,"y":0},{"g":-1,"x":1.9,"y":0},{"g":-1,"x":2.1,"y":0},{"g":-1,"x":2.3,"y":0},{"g":-1,"x":2.55,"y":0},{"g":-1,"x":2.8,"y":0},{"g":-1,"x":3.25,"y":0}
],
"pe":[
{"g":1,"x":-2.85,"y":7},{"g":1,"x":-2.4,"y":3.3},{"g":1,"x":-2,"y":1.7},{"g":1,"x":-1.5,"y":0.75},{"g":1,"x":-1,"y":0.33},{"g":1,"x":0,"y":0.06},{"g":1,"x":1,"y":0.02},{"g":1,"x":2,"y":0.01},{"g":1,"x":3.27,"y":0.01},
{"g":2,"x":-2.85,"y":6.5},{"g":2,"x":-2.4,"y":3.6},{"g":2,"x":-2,"y":2.0},{"g":2,"x":-1.5,"y":0.9},{"g":2,"x":-1,"y":0.42},{"g":2,"x":0,"y":0.08},{"g":2,"x":1,"y":0.02},{"g":2,"x":2,"y":0.01},{"g":2,"x":3.27,"y":0.01},
{"g":3,"x":-2.85,"y":2.6},{"g":3,"x":-2.4,"y":1.5},{"g":3,"x":-2,"y":0.9},{"g":3,"x":-1.5,"y":0.45},{"g":3,"x":-1,"y":0.22},{"g":3,"x":0,"y":0.06},{"g":3,"x":1,"y":0.02},{"g":3,"x":2,"y":0.01},{"g":3,"x":3.27,"y":0.01},
{"g":4,"x":-2.85,"y":2.1},{"g":4,"x":-2.4,"y":1.25},{"g":4,"x":-2,"y":0.75},{"g":4,"x":-1.5,"y":0.38},{"g":4,"x":-1,"y":0.19},{"g":4,"x":0,"y":0.05},{"g":4,"x":1,"y":0.02},{"g":4,"x":2,"y":0.01},{"g":4,"x":3.27,"y":0.01},
{"g":5,"x":-2.85,"y":1.6},{"g":5,"x":-2.4,"y":1.0},{"g":5,"x":-2,"y":0.62},{"g":5,"x":-1.5,"y":0.32},{"g":5,"x":-1,"y":0.17},{"g":5,"x":0,"y":0.05},{"g":5,"x":1,"y":0.02},{"g":5,"x":2,"y":0.01},{"g":5,"x":3.27,"y":0.01},
{"g":6,"x":-2.85,"y":0.95},{"g":6,"x":-2.4,"y":0.65},{"g":6,"x":-2,"y":0.45},{"g":6,"x":-1.5,"y":0.28},{"g":6,"x":-1,"y":0.17},{"g":6,"x":0,"y":0.06},{"g":6,"x":1,"y":0.03},{"g":6,"x":2,"y":0.02},{"g":6,"x":3.27,"y":0.01},
{"g":7,"x":-2.85,"y":0.8},{"g":7,"x":-2.4,"y":0.58},{"g":7,"x":-2,"y":0.42},{"g":7,"x":-1.5,"y":0.27},{"g":7,"x":-1,"y":0.17},{"g":7,"x":0,"y":0.07},{"g":7,"x":1,"y":0.03},{"g":7,"x":2,"y":0.02},{"g":7,"x":3.27,"y":0.01},
{"g":8,"x":-2.85,"y":0.65},{"g":8,"x":-2.4,"y":0.48},{"g":8,"x":-2,"y":0.36},{"g":8,"x":-1.5,"y":0.24},{"g":8,"x":-1,"y":0.16},{"g":8,"x":0,"y":0.07},{"g":8,"x":1,"y":0.03},{"g":8,"x":2,"y":0.02},{"g":8,"x":3.27,"y":0.01},
{"g":9,"x":-2.85,"y":0.5},{"g":9,"x":-2.4,"y":0.4},{"g":9,"x":-2,"y":0.3},{"g":9,"x":-1.5,"y":0.21},{"g":9,"x":-1,"y":0.14},{"g":9,"x":0,"y":0.07},{"g":9,"x":1,"y":0.04},{"g":9,"x":2,"y":0.02},{"g":9,"x":3.27,"y":0.01},
{"g":10,"x":-2.85,"y":0.4},{"g":10,"x":-2.4,"y":0.32},{"g":10,"x":-2,"y":0.26},{"g":10,"x":-1.5,"y":0.19},{"g":10,"x":-1,"y":0.14},{"g":10,"x":0,"y":0.07},{"g":10,"x":1,"y":0.04},{"g":10,"x":2,"y":0.02},{"g":10,"x":3.27,"y":0.01},
{"g":11,"x":-2.85,"y":0.3},{"g":11,"x":-2.4,"y":0.25},{"g":11,"x":-2,"y":0.2},{"g":11,"x":-1.5,"y":0.16},{"g":11,"x":-1,"y":0.12},{"g":11,"x":0,"y":0.07},{"g":11,"x":1,"y":0.04},{"g":11,"x":2,"y":0.02},{"g":11,"x":3.27,"y":0.01},
{"g":12,"x":-2.85,"y":0.22},{"g":12,"x":-2.4,"y":0.19},{"g":12,"x":-2,"y":0.16},{"g":12,"x":-1.5,"y":0.13},{"g":12,"x":-1,"y":0.1},{"g":12,"x":0,"y":0.06},{"g":12,"x":1,"y":0.04},{"g":12,"x":2,"y":0.03},{"g":12,"x":3.27,"y":0.02},
{"g":13,"x":-2.85,"y":0.15},{"g":13,"x":-2.4,"y":0.13},{"g":13,"x":-2,"y":0.12},{"g":13,"x":-1.5,"y":0.1},{"g":13,"x":-1,"y":0.08},{"g":13,"x":0,"y":0.06},{"g":13,"x":1,"y":0.04},{"g":13,"x":2,"y":0.03},{"g":13,"x":3.27,"y":0.02},
{"g":14,"x":-2.85,"y":0.1},{"g":14,"x":-2.4,"y":0.09},{"g":14,"x":-2,"y":0.08},{"g":14,"x":-1.5,"y":0.07},{"g":14,"x":-1,"y":0.06},{"g":14,"x":0,"y":0.05},{"g":14,"x":1,"y":0.04},{"g":14,"x":2,"y":0.03},{"g":14,"x":3.27,"y":0.03},
{"g":0,"x":-2.85,"y":0.13},{"g":0,"x":-2.4,"y":0.11},{"g":0,"x":-2,"y":0.09},{"g":0,"x":-1.5,"y":0.07},{"g":0,"x":-1,"y":0.05},{"g":0,"x":0,"y":0.03},{"g":0,"x":1,"y":0.02},{"g":0,"x":2,"y":0.02},{"g":0,"x":3.27,"y":0.015},
{"g":-1,"x":0.51,"y":2},
{"g":-1,"x":-2.1,"y":1},{"g":-1,"x":-1.24,"y":1},{"g":-1,"x":-1.07,"y":1},{"g":-1,"x":-0.88,"y":1},{"g":-1,"x":-0.63,"y":1},{"g":-1,"x":-0.54,"y":1},{"g":-1,"x":-0.46,"y":1},{"g":-1,"x":-0.27,"y":1},{"g":-1,"x":-0.22,"y":1},{"g":-1,"x":0.07,"y":1},{"g":-1,"x":0.1,"y":1},{"g":-1,"x":0.51,"y":1},{"g":-1,"x":0.63,"y":1},{"g":-1,"x":0.73,"y":1},
{"g":-1,"x":-2.85,"y":0},{"g":-1,"x":-2.6,"y":0},{"g":-1,"x":-2.1,"y":0},{"g":-1,"x":-1.95,"y":0},{"g":-1,"x":-1.8,"y":0},{"g":-1,"x":-1.65,"y":0},
{"g":-1,"x":-1.5,"y":0},{"g":-1,"x":-1.45,"y":0},{"g":-1,"x":-1.4,"y":0},{"g":-1,"x":-1.35,"y":0},{"g":-1,"x":-1.3,"y":0},{"g":-1,"x":-1.25,"y":0},{"g":-1,"x":-1.2,"y":0},{"g":-1,"x":-1.15,"y":0},{"g":-1,"x":-1.1,"y":0},{"g":-1,"x":-1.05,"y":0},{"g":-1,"x":-1,"y":0},{"g":-1,"x":-0.95,"y":0},{"g":-1,"x":-0.9,"y":0},{"g":-1,"x":-0.85,"y":0},{"g":-1,"x":-0.8,"y":0},{"g":-1,"x":-0.75,"y":0},{"g":-1,"x":-0.7,"y":0},{"g":-1,"x":-0.65,"y":0},{"g":-1,"x":-0.6,"y":0},{"g":-1,"x":-0.55,"y":0},{"g":-1,"x":-0.5,"y":0},{"g":-1,"x":-0.45,"y":0},{"g":-1,"x":-0.4,"y":0},{"g":-1,"x":-0.35,"y":0},{"g":-1,"x":-0.3,"y":0},{"g":-1,"x":-0.25,"y":0},{"g":-1,"x":-0.2,"y":0},{"g":-1,"x":-0.15,"y":0},{"g":-1,"x":-0.1,"y":0},{"g":-1,"x":-0.05,"y":0},{"g":-1,"x":0,"y":0},{"g":-1,"x":0.05,"y":0},{"g":-1,"x":0.1,"y":0},{"g":-1,"x":0.15,"y":0},{"g":-1,"x":0.2,"y":0},{"g":-1,"x":0.25,"y":0},{"g":-1,"x":0.3,"y":0},{"g":-1,"x":0.35,"y":0},{"g":-1,"x":0.4,"y":0},{"g":-1,"x":0.45,"y":0},{"g":-1,"x":0.5,"y":0},{"g":-1,"x":0.55,"y":0},{"g":-1,"x":0.6,"y":0},{"g":-1,"x":0.65,"y":0},{"g":-1,"x":0.7,"y":0},{"g":-1,"x":0.75,"y":0},{"g":-1,"x":0.8,"y":0},
{"g":-1,"x":0.9,"y":0},{"g":-1,"x":1,"y":0},{"g":-1,"x":1.15,"y":0},{"g":-1,"x":1.3,"y":0},{"g":-1,"x":1.5,"y":0},{"g":-1,"x":1.85,"y":0},{"g":-1,"x":2.1,"y":0}
],
"pf":[
{"g":1,"x":-2.85,"y":1.4},{"g":1,"x":-2.4,"y":1.0},{"g":1,"x":-2,"y":0.72},{"g":1,"x":-1.5,"y":0.48},{"g":1,"x":-1,"y":0.33},{"g":1,"x":0,"y":0.16},{"g":1,"x":1,"y":0.08},{"g":1,"x":2,"y":0.04},{"g":1,"x":3.27,"y":0.02},
{"g":2,"x":-2.85,"y":1.0},{"g":2,"x":-2.4,"y":0.78},{"g":2,"x":-2,"y":0.6},{"g":2,"x":-1.5,"y":0.43},{"g":2,"x":-1,"y":0.31},{"g":2,"x":0,"y":0.17},{"g":2,"x":1,"y":0.09},{"g":2,"x":2,"y":0.05},{"g":2,"x":3.27,"y":0.03},
{"g":3,"x":-2.85,"y":0.75},{"g":3,"x":-2.4,"y":0.6},{"g":3,"x":-2,"y":0.48},{"g":3,"x":-1.5,"y":0.37},{"g":3,"x":-1,"y":0.28},{"g":3,"x":0,"y":0.17},{"g":3,"x":1,"y":0.1},{"g":3,"x":2,"y":0.06},{"g":3,"x":3.27,"y":0.04},
{"g":4,"x":-2.85,"y":0.55},{"g":4,"x":-2.4,"y":0.46},{"g":4,"x":-2,"y":0.39},{"g":4,"x":-1.5,"y":0.32},{"g":4,"x":-1,"y":0.26},{"g":4,"x":0,"y":0.17},{"g":4,"x":1,"y":0.11},{"g":4,"x":2,"y":0.08},{"g":4,"x":3.27,"y":0.05},
{"g":5,"x":-2.85,"y":0.42},{"g":5,"x":-2.4,"y":0.37},{"g":5,"x":-2,"y":0.33},{"g":5,"x":-1.5,"y":0.28},{"g":5,"x":-1,"y":0.24},{"g":5,"x":0,"y":0.17},{"g":5,"x":1,"y":0.12},{"g":5,"x":2,"y":0.09},{"g":5,"x":3.27,"y":0.07},
{"g":6,"x":-2.85,"y":0.33},{"g":6,"x":-2.4,"y":0.3},{"g":6,"x":-2,"y":0.27},{"g":6,"x":-1.5,"y":0.24},{"g":6,"x":-1,"y":0.21},{"g":6,"x":0,"y":0.16},{"g":6,"x":1,"y":0.13},{"g":6,"x":2,"y":0.1},{"g":6,"x":3.27,"y":0.08},
{"g":7,"x":-2.85,"y":0.26},{"g":7,"x":-2.4,"y":0.24},{"g":7,"x":-2,"y":0.22},{"g":7,"x":-1.5,"y":0.2},{"g":7,"x":-1,"y":0.18},{"g":7,"x":0,"y":0.15},{"g":7,"x":1,"y":0.13},{"g":7,"x":2,"y":0.11},{"g":7,"x":3.27,"y":0.09},
{"g":8,"x":-2.85,"y":0.2},{"g":8,"x":-2.4,"y":0.19},{"g":8,"x":-2,"y":0.18},{"g":8,"x":-1.5,"y":0.17},{"g":8,"x":-1,"y":0.16},{"g":8,"x":0,"y":0.14},{"g":8,"x":1,"y":0.12},{"g":8,"x":2,"y":0.11},{"g":8,"x":3.27,"y":0.1},
{"g":9,"x":-2.85,"y":0.15},{"g":9,"x":-2.4,"y":0.15},{"g":9,"x":-2,"y":0.14},{"g":9,"x":-1.5,"y":0.14},{"g":9,"x":-1,"y":0.13},{"g":9,"x":0,"y":0.12},{"g":9,"x":1,"y":0.12},{"g":9,"x":2,"y":0.11},{"g":9,"x":3.27,"y":0.11},
{"g":10,"x":-2.85,"y":0.12},{"g":10,"x":-2.4,"y":0.12},{"g":10,"x":-2,"y":0.12},{"g":10,"x":-1.5,"y":0.12},{"g":10,"x":-1,"y":0.12},{"g":10,"x":0,"y":0.12},{"g":10,"x":1,"y":0.12},{"g":10,"x":2,"y":0.13},{"g":10,"x":3.27,"y":0.13},
{"g":11,"x":-2.85,"y":0.09},{"g":11,"x":-2.4,"y":0.09},{"g":11,"x":-2,"y":0.1},{"g":11,"x":-1.5,"y":0.1},{"g":11,"x":-1,"y":0.1},{"g":11,"x":0,"y":0.11},{"g":11,"x":1,"y":0.12},{"g":11,"x":2,"y":0.14},{"g":11,"x":3.27,"y":0.16},
{"g":12,"x":-2.85,"y":0.07},{"g":12,"x":-2.4,"y":0.07},{"g":12,"x":-2,"y":0.08},{"g":12,"x":-1.5,"y":0.08},{"g":12,"x":-1,"y":0.09},{"g":12,"x":0,"y":0.1},{"g":12,"x":1,"y":0.12},{"g":12,"x":2,"y":0.15},{"g":12,"x":3.27,"y":0.2},
{"g":13,"x":-2.85,"y":0.05},{"g":13,"x":-2.4,"y":0.05},{"g":13,"x":-2,"y":0.06},{"g":13,"x":-1.5,"y":0.06},{"g":13,"x":-1,"y":0.07},{"g":13,"x":0,"y":0.09},{"g":13,"x":1,"y":0.12},{"g":13,"x":2,"y":0.16},{"g":13,"x":3.27,"y":0.25},
{"g":0,"x":-2.85,"y":0.24},{"g":0,"x":-2.4,"y":0.22},{"g":0,"x":-2,"y":0.2},{"g":0,"x":-1.5,"y":0.18},{"g":0,"x":-1,"y":0.16},{"g":0,"x":0,"y":0.13},{"g":0,"x":1,"y":0.11},{"g":0,"x":2,"y":0.1},{"g":0,"x":3.27,"y":0.09},
{"g":-1,"x":-0.8,"y":4},{"g":-1,"x":0.07,"y":4},
{"g":-1,"x":0.51,"y":3},{"g":-1,"x":1.29,"y":3},
{"g":-1,"x":-1.71,"y":2},{"g":-1,"x":-0.8,"y":2},{"g":-1,"x":0.17,"y":2},{"g":-1,"x":0.37,"y":2},{"g":-1,"x":0.46,"y":2},{"g":-1,"x":0.56,"y":2},{"g":-1,"x":0.63,"y":2},{"g":-1,"x":1.1,"y":2},
{"g":-1,"x":-1.65,"y":1},{"g":-1,"x":-1.4,"y":1},{"g":-1,"x":-1.25,"y":1},{"g":-1,"x":-1.1,"y":1},{"g":-1,"x":-0.95,"y":1},{"g":-1,"x":-0.8,"y":1},{"g":-1,"x":-0.7,"y":1},{"g":-1,"x":-0.55,"y":1},{"g":-1,"x":-0.45,"y":1},{"g":-1,"x":-0.3,"y":1},{"g":-1,"x":-0.2,"y":1},{"g":-1,"x":-0.1,"y":1},{"g":-1,"x":0,"y":1},{"g":-1,"x":0.1,"y":1},{"g":-1,"x":0.2,"y":1},{"g":-1,"x":0.3,"y":1},{"g":-1,"x":0.4,"y":1},{"g":-1,"x":0.5,"y":1},{"g":-1,"x":0.6,"y":1},{"g":-1,"x":0.7,"y":1},{"g":-1,"x":0.8,"y":1},{"g":-1,"x":0.95,"y":1},{"g":-1,"x":1.05,"y":1},{"g":-1,"x":1.2,"y":1},{"g":-1,"x":1.35,"y":1},{"g":-1,"x":1.55,"y":1},{"g":-1,"x":1.75,"y":1},{"g":-1,"x":2.85,"y":1},
{"g":-1,"x":-2.9,"y":0},{"g":-1,"x":-2.5,"y":0},{"g":-1,"x":-2.1,"y":0},{"g":-1,"x":-1.9,"y":0},{"g":-1,"x":-1.75,"y":0},{"g":-1,"x":-1.62,"y":0},
{"g":-1,"x":-1.5,"y":0},{"g":-1,"x":-1.45,"y":0},{"g":-1,"x":-1.4,"y":0},{"g":-1,"x":-1.35,"y":0},{"g":-1,"x":-1.3,"y":0},{"g":-1,"x":-1.25,"y":0},{"g":-1,"x":-1.2,"y":0},{"g":-1,"x":-1.15,"y":0},{"g":-1,"x":-1.1,"y":0},{"g":-1,"x":-1.05,"y":0},{"g":-1,"x":-1,"y":0},{"g":-1,"x":-0.95,"y":0},{"g":-1,"x":-0.9,"y":0},{"g":-1,"x":-0.85,"y":0},{"g":-1,"x":-0.8,"y":0},{"g":-1,"x":-0.75,"y":0},{"g":-1,"x":-0.7,"y":0},{"g":-1,"x":-0.65,"y":0},{"g":-1,"x":-0.6,"y":0},{"g":-1,"x":-0.55,"y":0},{"g":-1,"x":-0.5,"y":0},{"g":-1,"x":-0.45,"y":0},{"g":-1,"x":-0.4,"y":0},{"g":-1,"x":-0.35,"y":0},{"g":-1,"x":-0.3,"y":0},{"g":-1,"x":-0.25,"y":0},{"g":-1,"x":-0.2,"y":0},{"g":-1,"x":-0.15,"y":0},{"g":-1,"x":-0.1,"y":0},{"g":-1,"x":-0.05,"y":0},{"g":-1,"x":0,"y":0},{"g":-1,"x":0.05,"y":0},{"g":-1,"x":0.1,"y":0},{"g":-1,"x":0.15,"y":0},{"g":-1,"x":0.2,"y":0},{"g":-1,"x":0.25,"y":0},{"g":-1,"x":0.3,"y":0},{"g":-1,"x":0.35,"y":0},{"g":-1,"x":0.4,"y":0},{"g":-1,"x":0.45,"y":0},{"g":-1,"x":0.5,"y":0},{"g":-1,"x":0.55,"y":0},{"g":-1,"x":0.6,"y":0},{"g":-1,"x":0.65,"y":0},{"g":-1,"x":0.7,"y":0},{"g":-1,"x":0.75,"y":0},{"g":-1,"x":0.8,"y":0},
{"g":-1,"x":0.9,"y":0},{"g":-1,"x":1,"y":0},{"g":-1,"x":1.1,"y":0},{"g":-1,"x":1.25,"y":0},{"g":-1,"x":1.4,"y":0},{"g":-1,"x":1.6,"y":0},{"g":-1,"x":1.8,"y":0},{"g":-1,"x":2,"y":0},{"g":-1,"x":2.3,"y":0},{"g":-1,"x":2.8,"y":0}
],
"pg":[
{"g":1,"x":-2.85,"y":3.8},{"g":1,"x":-2.4,"y":2.3},{"g":1,"x":-2,"y":1.45},{"g":1,"x":-1.5,"y":0.8},{"g":1,"x":-1,"y":0.45},{"g":1,"x":0,"y":0.14},{"g":1,"x":1,"y":0.05},{"g":1,"x":2,"y":0.02},{"g":1,"x":3.27,"y":0.01},
{"g":2,"x":-2.85,"y":3.0},{"g":2,"x":-2.4,"y":1.9},{"g":2,"x":-2,"y":1.2},{"g":2,"x":-1.5,"y":0.68},{"g":2,"x":-1,"y":0.38},{"g":2,"x":0,"y":0.12},{"g":2,"x":1,"y":0.04},{"g":2,"x":2,"y":0.02},{"g":2,"x":3.27,"y":0.01},
{"g":3,"x":-2.85,"y":2.2},{"g":3,"x":-2.4,"y":1.45},{"g":3,"x":-2,"y":0.95},{"g":3,"x":-1.5,"y":0.56},{"g":3,"x":-1,"y":0.33},{"g":3,"x":0,"y":0.11},{"g":3,"x":1,"y":0.04},{"g":3,"x":2,"y":0.02},{"g":3,"x":3.27,"y":0.01},
{"g":4,"x":-2.85,"y":1.6},{"g":4,"x":-2.4,"y":1.1},{"g":4,"x":-2,"y":0.75},{"g":4,"x":-1.5,"y":0.46},{"g":4,"x":-1,"y":0.28},{"g":4,"x":0,"y":0.1},{"g":4,"x":1,"y":0.04},{"g":4,"x":2,"y":0.02},{"g":4,"x":3.27,"y":0.01},
{"g":5,"x":-2.85,"y":1.1},{"g":5,"x":-2.4,"y":0.8},{"g":5,"x":-2,"y":0.58},{"g":5,"x":-1.5,"y":0.38},{"g":5,"x":-1,"y":0.24},{"g":5,"x":0,"y":0.1},{"g":5,"x":1,"y":0.04},{"g":5,"x":2,"y":0.02},{"g":5,"x":3.27,"y":0.01},
{"g":6,"x":-2.85,"y":0.8},{"g":6,"x":-2.4,"y":0.6},{"g":6,"x":-2,"y":0.45},{"g":6,"x":-1.5,"y":0.31},{"g":6,"x":-1,"y":0.21},{"g":6,"x":0,"y":0.09},{"g":6,"x":1,"y":0.04},{"g":6,"x":2,"y":0.02},{"g":6,"x":3.27,"y":0.01},
{"g":7,"x":-2.85,"y":0.6},{"g":7,"x":-2.4,"y":0.47},{"g":7,"x":-2,"y":0.37},{"g":7,"x":-1.5,"y":0.27},{"g":7,"x":-1,"y":0.19},{"g":7,"x":0,"y":0.09},{"g":7,"x":1,"y":0.05},{"g":7,"x":2,"y":0.02},{"g":7,"x":3.27,"y":0.01},
{"g":8,"x":-2.85,"y":0.45},{"g":8,"x":-2.4,"y":0.37},{"g":8,"x":-2,"y":0.3},{"g":8,"x":-1.5,"y":0.23},{"g":8,"x":-1,"y":0.17},{"g":8,"x":0,"y":0.09},{"g":8,"x":1,"y":0.05},{"g":8,"x":2,"y":0.03},{"g":8,"x":3.27,"y":0.02},
{"g":9,"x":-2.85,"y":0.33},{"g":9,"x":-2.4,"y":0.28},{"g":9,"x":-2,"y":0.24},{"g":9,"x":-1.5,"y":0.19},{"g":9,"x":-1,"y":0.15},{"g":9,"x":0,"y":0.09},{"g":9,"x":1,"y":0.05},{"g":9,"x":2,"y":0.03},{"g":9,"x":3.27,"y":0.02},
{"g":10,"x":-2.85,"y":0.24},{"g":10,"x":-2.4,"y":0.21},{"g":10,"x":-2,"y":0.19},{"g":10,"x":-1.5,"y":0.16},{"g":10,"x":-1,"y":0.13},{"g":10,"x":0,"y":0.08},{"g":10,"x":1,"y":0.05},{"g":10,"x":2,"y":0.04},{"g":10,"x":3.27,"y":0.03},
{"g":11,"x":-2.85,"y":0.17},{"g":11,"x":-2.4,"y":0.15},{"g":11,"x":-2,"y":0.14},{"g":11,"x":-1.5,"y":0.12},{"g":11,"x":-1,"y":0.1},{"g":11,"x":0,"y":0.07},{"g":11,"x":1,"y":0.05},{"g":11,"x":2,"y":0.04},{"g":11,"x":3.27,"y":0.03},
{"g":12,"x":-2.85,"y":0.11},{"g":12,"x":-2.4,"y":0.1},{"g":12,"x":-2,"y":0.1},{"g":12,"x":-1.5,"y":0.09},{"g":12,"x":-1,"y":0.08},{"g":12,"x":0,"y":0.06},{"g":12,"x":1,"y":0.05},{"g":12,"x":2,"y":0.04},{"g":12,"x":3.27,"y":0.04},
{"g":0,"x":-2.85,"y":0.2},{"g":0,"x":-2.4,"y":0.17},{"g":0,"x":-2,"y":0.15},{"g":0,"x":-1.5,"y":0.12},{"g":0,"x":-1,"y":0.1},{"g":0,"x":0,"y":0.07},{"g":0,"x":1,"y":0.05},{"g":0,"x":2,"y":0.04},{"g":0,"x":3.27,"y":0.03},
{"g":-1,"x":-0.78,"y":2},
{"g":-1,"x":-1.98,"y":1},{"g":-1,"x":-1.12,"y":1},{"g":-1,"x":-1,"y":1},{"g":-1,"x":-0.51,"y":1},{"g":-1,"x":-0.39,"y":1},{"g":-1,"x":-0.27,"y":1},{"g":-1,"x":0.61,"y":1},{"g":-1,"x":1.49,"y":1},
{"g":-1,"x":-2.8,"y":0},{"g":-1,"x":-2.4,"y":0},{"g":-1,"x":-2.1,"y":0},{"g":-1,"x":-1.9,"y":0},{"g":-1,"x":-1.75,"y":0},{"g":-1,"x":-1.62,"y":0},
{"g":-1,"x":-1.5,"y":0},{"g":-1,"x":-1.45,"y":0},{"g":-1,"x":-1.4,"y":0},{"g":-1,"x":-1.35,"y":0},{"g":-1,"x":-1.3,"y":0},{"g":-1,"x":-1.25,"y":0},{"g":-1,"x":-1.2,"y":0},{"g":-1,"x":-1.15,"y":0},{"g":-1,"x":-1.1,"y":0},{"g":-1,"x":-1.05,"y":0},{"g":-1,"x":-1,"y":0},{"g":-1,"x":-0.95,"y":0},{"g":-1,"x":-0.9,"y":0},{"g":-1,"x":-0.85,"y":0},{"g":-1,"x":-0.8,"y":0},{"g":-1,"x":-0.75,"y":0},{"g":-1,"x":-0.7,"y":0},{"g":-1,"x":-0.65,"y":0},{"g":-1,"x":-0.6,"y":0},{"g":-1,"x":-0.55,"y":0},{"g":-1,"x":-0.5,"y":0},{"g":-1,"x":-0.45,"y":0},{"g":-1,"x":-0.4,"y":0},{"g":-1,"x":-0.35,"y":0},{"g":-1,"x":-0.3,"y":0},{"g":-1,"x":-0.25,"y":0},{"g":-1,"x":-0.2,"y":0},{"g":-1,"x":-0.15,"y":0},{"g":-1,"x":-0.1,"y":0},{"g":-1,"x":-0.05,"y":0},{"g":-1,"x":0,"y":0},{"g":-1,"x":0.05,"y":0},{"g":-1,"x":0.1,"y":0},{"g":-1,"x":0.15,"y":0},{"g":-1,"x":0.2,"y":0},{"g":-1,"x":0.25,"y":0},{"g":-1,"x":0.3,"y":0},{"g":-1,"x":0.35,"y":0},{"g":-1,"x":0.4,"y":0},{"g":-1,"x":0.45,"y":0},{"g":-1,"x":0.5,"y":0},{"g":-1,"x":0.55,"y":0},{"g":-1,"x":0.6,"y":0},{"g":-1,"x":0.65,"y":0},{"g":-1,"x":0.7,"y":0},{"g":-1,"x":0.75,"y":0},{"g":-1,"x":0.8,"y":0},
{"g":-1,"x":0.9,"y":0},{"g":-1,"x":1,"y":0},{"g":-1,"x":1.1,"y":0},{"g":-1,"x":1.25,"y":0},{"g":-1,"x":1.45,"y":0},{"g":-1,"x":1.7,"y":0},{"g":-1,"x":2,"y":0},{"g":-1,"x":2.3,"y":0}
],
"ph":[
{"g":1,"x":-2.85,"y":0.02},{"g":1,"x":-2.4,"y":0.03},{"g":1,"x":-2,"y":0.04},{"g":1,"x":-1.5,"y":0.05},{"g":1,"x":-1,"y":0.07},{"g":1,"x":0,"y":0.14},{"g":1,"x":1,"y":0.3},{"g":1,"x":2,"y":0.7},{"g":1,"x":3.27,"y":1.9},
{"g":2,"x":-2.85,"y":0.03},{"g":2,"x":-2.4,"y":0.04},{"g":2,"x":-2,"y":0.05},{"g":2,"x":-1.5,"y":0.07},{"g":2,"x":-1,"y":0.09},{"g":2,"x":0,"y":0.16},{"g":2,"x":1,"y":0.32},{"g":2,"x":2,"y":0.65},{"g":2,"x":3.27,"y":1.6},
{"g":3,"x":-2.85,"y":0.04},{"g":3,"x":-2.4,"y":0.05},{"g":3,"x":-2,"y":0.06},{"g":3,"x":-1.5,"y":0.08},{"g":3,"x":-1,"y":0.1},{"g":3,"x":0,"y":0.17},{"g":3,"x":1,"y":0.32},{"g":3,"x":2,"y":0.6},{"g":3,"x":3.27,"y":1.35},
{"g":4,"x":-2.85,"y":0.06},{"g":4,"x":-2.4,"y":0.07},{"g":4,"x":-2,"y":0.08},{"g":4,"x":-1.5,"y":0.1},{"g":4,"x":-1,"y":0.12},{"g":4,"x":0,"y":0.19},{"g":4,"x":1,"y":0.32},{"g":4,"x":2,"y":0.55},{"g":4,"x":3.27,"y":1.1},
{"g":5,"x":-2.85,"y":0.08},{"g":5,"x":-2.4,"y":0.09},{"g":5,"x":-2,"y":0.1},{"g":5,"x":-1.5,"y":0.12},{"g":5,"x":-1,"y":0.14},{"g":5,"x":0,"y":0.2},{"g":5,"x":1,"y":0.3},{"g":5,"x":2,"y":0.48},{"g":5,"x":3.27,"y":0.88},
{"g":6,"x":-2.85,"y":0.1},{"g":6,"x":-2.4,"y":0.11},{"g":6,"x":-2,"y":0.12},{"g":6,"x":-1.5,"y":0.13},{"g":6,"x":-1,"y":0.15},{"g":6,"x":0,"y":0.2},{"g":6,"x":1,"y":0.28},{"g":6,"x":2,"y":0.42},{"g":6,"x":3.27,"y":0.7},
{"g":7,"x":-2.85,"y":0.13},{"g":7,"x":-2.4,"y":0.14},{"g":7,"x":-2,"y":0.14},{"g":7,"x":-1.5,"y":0.15},{"g":7,"x":-1,"y":0.16},{"g":7,"x":0,"y":0.2},{"g":7,"x":1,"y":0.26},{"g":7,"x":2,"y":0.35},{"g":7,"x":3.27,"y":0.55},
{"g":8,"x":-2.85,"y":0.17},{"g":8,"x":-2.4,"y":0.17},{"g":8,"x":-2,"y":0.17},{"g":8,"x":-1.5,"y":0.18},{"g":8,"x":-1,"y":0.18},{"g":8,"x":0,"y":0.2},{"g":8,"x":1,"y":0.24},{"g":8,"x":2,"y":0.3},{"g":8,"x":3.27,"y":0.42},
{"g":9,"x":-2.85,"y":0.22},{"g":9,"x":-2.4,"y":0.21},{"g":9,"x":-2,"y":0.21},{"g":9,"x":-1.5,"y":0.2},{"g":9,"x":-1,"y":0.2},{"g":9,"x":0,"y":0.2},{"g":9,"x":1,"y":0.22},{"g":9,"x":2,"y":0.25},{"g":9,"x":3.27,"y":0.3},
{"g":10,"x":-2.85,"y":0.3},{"g":10,"x":-2.4,"y":0.28},{"g":10,"x":-2,"y":0.26},{"g":10,"x":-1.5,"y":0.24},{"g":10,"x":-1,"y":0.23},{"g":10,"x":0,"y":0.21},{"g":10,"x":1,"y":0.2},{"g":10,"x":2,"y":0.2},{"g":10,"x":3.27,"y":0.21},
{"g":11,"x":-2.85,"y":0.38},{"g":11,"x":-2.4,"y":0.35},{"g":11,"x":-2,"y":0.32},{"g":11,"x":-1.5,"y":0.29},{"g":11,"x":-1,"y":0.26},{"g":11,"x":0,"y":0.22},{"g":11,"x":1,"y":0.19},{"g":11,"x":2,"y":0.17},{"g":11,"x":3.27,"y":0.15},
{"g":12,"x":-2.85,"y":0.05},{"g":12,"x":-2.4,"y":0.06},{"g":12,"x":-2,"y":0.07},{"g":12,"x":-1.5,"y":0.09},{"g":12,"x":-1,"y":0.11},{"g":12,"x":0,"y":0.18},{"g":12,"x":1,"y":0.3},{"g":12,"x":2,"y":0.52},{"g":12,"x":3.27,"y":1.2},
{"g":13,"x":-2.85,"y":0.09},{"g":13,"x":-2.4,"y":0.1},{"g":13,"x":-2,"y":0.11},{"g":13,"x":-1.5,"y":0.13},{"g":13,"x":-1,"y":0.15},{"g":13,"x":0,"y":0.21},{"g":13,"x":1,"y":0.31},{"g":13,"x":2,"y":0.46},{"g":13,"x":3.27,"y":0.8},
{"g":0,"x":-2.85,"y":0.09},{"g":0,"x":-2.4,"y":0.1},{"g":0,"x":-2,"y":0.11},{"g":0,"x":-1.5,"y":0.12},{"g":0,"x":-1,"y":0.14},{"g":0,"x":0,"y":0.19},{"g":0,"x":1,"y":0.25},{"g":0,"x":2,"y":0.32},{"g":0,"x":3.27,"y":0.42},
{"g":-1,"x":-1.37,"y":4},
{"g":-1,"x":-1.66,"y":3},{"g":-1,"x":0.02,"y":3},{"g":-1,"x":0.95,"y":3},
{"g":-1,"x":-1.1,"y":2},{"g":-1,"x":-0.78,"y":2},{"g":-1,"x":-0.54,"y":2},{"g":-1,"x":-0.4,"y":2},{"g":-1,"x":-0.34,"y":2},{"g":-1,"x":0.25,"y":2},{"g":-1,"x":0.3,"y":2},{"g":-1,"x":0.73,"y":2},{"g":-1,"x":1.2,"y":2},
{"g":-1,"x":-1.59,"y":1},{"g":-1,"x":-1.39,"y":1},{"g":-1,"x":-1.12,"y":1},{"g":-1,"x":-1.05,"y":1},{"g":-1,"x":-1,"y":1},{"g":-1,"x":-0.8,"y":1},{"g":-1,"x":-0.76,"y":1},{"g":-1,"x":-0.56,"y":1},{"g":-1,"x":-0.29,"y":1},{"g":-1,"x":0.02,"y":1},{"g":-1,"x":0.1,"y":1},{"g":-1,"x":0.15,"y":1},{"g":-1,"x":0.22,"y":1},{"g":-1,"x":0.41,"y":1},{"g":-1,"x":0.46,"y":1},{"g":-1,"x":0.5,"y":1},{"g":-1,"x":0.59,"y":1},{"g":-1,"x":0.68,"y":1},{"g":-1,"x":0.83,"y":1},{"g":-1,"x":0.93,"y":1},{"g":-1,"x":1.07,"y":1},{"g":-1,"x":1.12,"y":1},{"g":-1,"x":1.17,"y":1},{"g":-1,"x":1.49,"y":1},{"g":-1,"x":1.83,"y":1},{"g":-1,"x":2.1,"y":1},{"g":-1,"x":2.29,"y":1},
{"g":-1,"x":-2.8,"y":0},{"g":-1,"x":-2.2,"y":0},{"g":-1,"x":-2,"y":0},{"g":-1,"x":-1.85,"y":0},{"g":-1,"x":-1.7,"y":0},{"g":-1,"x":-1.6,"y":0},
{"g":-1,"x":-1.5,"y":0},{"g":-1,"x":-1.45,"y":0},{"g":-1,"x":-1.4,"y":0},{"g":-1,"x":-1.35,"y":0},{"g":-1,"x":-1.3,"y":0},{"g":-1,"x":-1.25,"y":0},{"g":-1,"x":-1.2,"y":0},{"g":-1,"x":-1.15,"y":0},{"g":-1,"x":-1.1,"y":0},{"g":-1,"x":-1.05,"y":0},{"g":-1,"x":-1,"y":0},{"g":-1,"x":-0.95,"y":0},{"g":-1,"x":-0.9,"y":0},{"g":-1,"x":-0.85,"y":0},{"g":-1,"x":-0.8,"y":0},{"g":-1,"x":-0.75,"y":0},{"g":-1,"x":-0.7,"y":0},{"g":-1,"x":-0.65,"y":0},{"g":-1,"x":-0.6,"y":0},{"g":-1,"x":-0.55,"y":0},{"g":-1,"x":-0.5,"y":0},{"g":-1,"x":-0.45,"y":0},{"g":-1,"x":-0.4,"y":0},{"g":-1,"x":-0.35,"y":0},{"g":-1,"x":-0.3,"y":0},{"g":-1,"x":-0.25,"y":0},{"g":-1,"x":-0.2,"y":0},{"g":-1,"x":-0.15,"y":0},{"g":-1,"x":-0.1,"y":0},{"g":-1,"x":-0.05,"y":0},{"g":-1,"x":0,"y":0},{"g":-1,"x":0.05,"y":0},{"g":-1,"x":0.1,"y":0},{"g":-1,"x":0.15,"y":0},{"g":-1,"x":0.2,"y":0},{"g":-1,"x":0.25,"y":0},{"g":-1,"x":0.3,"y":0},{"g":-1,"x":0.35,"y":0},{"g":-1,"x":0.4,"y":0},{"g":-1,"x":0.45,"y":0},{"g":-1,"x":0.5,"y":0},{"g":-1,"x":0.55,"y":0},{"g":-1,"x":0.6,"y":0},{"g":-1,"x":0.65,"y":0},{"g":-1,"x":0.7,"y":0},{"g":-1,"x":0.75,"y":0},{"g":-1,"x":0.8,"y":0},
{"g":-1,"x":0.9,"y":0},{"g":-1,"x":1,"y":0},{"g":-1,"x":1.1,"y":0},{"g":-1,"x":1.2,"y":0},{"g":-1,"x":1.35,"y":0},{"g":-1,"x":1.5,"y":0},{"g":-1,"x":1.7,"y":0},{"g":-1,"x":1.9,"y":0},{"g":-1,"x":2.1,"y":0},{"g":-1,"x":2.3,"y":0},{"g":-1,"x":2.6,"y":0},{"g":-1,"x":2.9,"y":0},{"g":-1,"x":3.1,"y":0}
]
},
"vconcat":[
{"hconcat":[
{"width":260,"height":248,"title":{"text":"a. foraging"},"data":{"name":"pa"},
"encoding":{"x":{"field":"x","type":"quantitative","scale":{"domain":[-3.076,3.506],"nice":false,"zero":false},"axis":{"values":[-3,-2,-1,0,1,2,3],"title":null}},
"y":{"field":"y","type":"quantitative","scale":{"domain":[-0.044,1.147],"nice":false,"zero":false},"axis":{"values":[0,0.2,0.4,0.6,0.8,1],"format":".1f","title":"probability of innovating"}}},
"layer":[
{"transform":[{"filter":"datum.g>0"}],"mark":{"type":"line","interpolate":"monotone","color":"#1B9E77","strokeWidth":6,"opacity":0.18,"strokeCap":"round","clip":true},"encoding":{"detail":{"field":"g","type":"nominal"}}},
{"transform":[{"filter":"datum.g<0"}],"mark":{"type":"circle","size":150,"fill":"black","fillOpacity":0.17,"stroke":"black","strokeOpacity":0.22,"strokeWidth":1}},
{"transform":[{"filter":"datum.g==0"}],"mark":{"type":"line","interpolate":"monotone","color":"#1B9E77","strokeWidth":4.5,"strokeCap":"round","clip":true}}]},
{"width":260,"height":248,"title":{"text":"b. investigative"},"data":{"name":"pb"},
"encoding":{"x":{"field":"x","type":"quantitative","scale":{"domain":[-3.076,3.506],"nice":false,"zero":false},"axis":{"values":[-3,-2,-1,0,1,2,3],"title":null}},
"y":{"field":"y","type":"quantitative","scale":{"domain":[-0.044,1.147],"nice":false,"zero":false},"axis":{"values":[0,0.2,0.4,0.6,0.8,1],"format":".1f","title":null}}},
"layer":[
{"transform":[{"filter":"datum.g>0"}],"mark":{"type":"line","interpolate":"monotone","color":"#D95F02","strokeWidth":6,"opacity":0.18,"strokeCap":"round","clip":true},"encoding":{"detail":{"field":"g","type":"nominal"}}},
{"transform":[{"filter":"datum.g<0"}],"mark":{"type":"circle","size":150,"fill":"black","fillOpacity":0.17,"stroke":"black","strokeOpacity":0.22,"strokeWidth":1}},
{"transform":[{"filter":"datum.g==0"}],"mark":{"type":"line","interpolate":"monotone","color":"#D95F02","strokeWidth":4.5,"strokeCap":"round","clip":true}}]},
{"width":260,"height":248,"title":{"text":"c. self-directed"},"data":{"name":"pc"},
"encoding":{"x":{"field":"x","type":"quantitative","scale":{"domain":[-3.076,3.506],"nice":false,"zero":false},"axis":{"values":[-3,-2,-1,0,1,2,3],"title":null}},
"y":{"field":"y","type":"quantitative","scale":{"domain":[-0.044,1.147],"nice":false,"zero":false},"axis":{"values":[0,0.2,0.4,0.6,0.8,1],"format":".1f","title":null}}},
"layer":[
{"transform":[{"filter":"datum.g>0"}],"mark":{"type":"line","interpolate":"monotone","color":"#7570B3","strokeWidth":6,"opacity":0.18,"strokeCap":"round","clip":true},"encoding":{"detail":{"field":"g","type":"nominal"}}},
{"transform":[{"filter":"datum.g<0"}],"mark":{"type":"circle","size":150,"fill":"black","fillOpacity":0.17,"stroke":"black","strokeOpacity":0.22,"strokeWidth":1}},
{"transform":[{"filter":"datum.g==0"}],"mark":{"type":"line","interpolate":"monotone","color":"#7570B3","strokeWidth":4.5,"strokeCap":"round","clip":true}}]},
{"width":260,"height":248,"title":{"text":"d. social"},"data":{"name":"pd"},
"encoding":{"x":{"field":"x","type":"quantitative","scale":{"domain":[-3.076,3.506],"nice":false,"zero":false},"axis":{"values":[-3,-2,-1,0,1,2,3],"title":null}},
"y":{"field":"y","type":"quantitative","scale":{"domain":[-0.044,1.147],"nice":false,"zero":false},"axis":{"values":[0,0.2,0.4,0.6,0.8,1],"format":".1f","title":null}}},
"layer":[
{"transform":[{"filter":"datum.g>0"}],"mark":{"type":"line","interpolate":"monotone","color":"#E7298A","strokeWidth":6,"opacity":0.18,"strokeCap":"round","clip":true},"encoding":{"detail":{"field":"g","type":"nominal"}}},
{"transform":[{"filter":"datum.g<0"}],"mark":{"type":"circle","size":150,"fill":"black","fillOpacity":0.17,"stroke":"black","strokeOpacity":0.22,"strokeWidth":1}},
{"transform":[{"filter":"datum.g==0"}],"mark":{"type":"line","interpolate":"monotone","color":"#E7298A","strokeWidth":4.5,"strokeCap":"round","clip":true}}]}
],"spacing":36,"bounds":"flush"},
{"title":{"text":"# of innovations/year | innovator","orient":"left","anchor":"middle","fontSize":21.5,"offset":28,"frame":"bounds"},
"hconcat":[
{"width":260,"height":249,"title":{"text":"e. foraging"},"data":{"name":"pe"},
"encoding":{"x":{"field":"x","type":"quantitative","scale":{"domain":[-3.073,3.29],"nice":false,"zero":false},"axis":{"values":[-3,-2,-1,0,1,2,3],"title":null}},
"y":{"field":"y","type":"quantitative","scale":{"domain":[-0.2,5.2],"nice":false,"zero":false},"axis":{"values":[0,1,2,3,4,5],"format":"d","title":null}}},
"layer":[
{"transform":[{"filter":"datum.g>0"}],"mark":{"type":"line","interpolate":"monotone","color":"#1B9E77","strokeWidth":6,"opacity":0.18,"strokeCap":"round","clip":true},"encoding":{"detail":{"field":"g","type":"nominal"}}},
{"transform":[{"filter":"datum.g<0"}],"mark":{"type":"circle","size":150,"fill":"black","fillOpacity":0.17,"stroke":"black","strokeOpacity":0.22,"strokeWidth":1}},
{"transform":[{"filter":"datum.g==0"}],"mark":{"type":"line","interpolate":"monotone","color":"#1B9E77","strokeWidth":4.5,"strokeCap":"round","clip":true}}]},
{"width":260,"height":249,"title":{"text":"f. investigative"},"data":{"name":"pf"},
"encoding":{"x":{"field":"x","type":"quantitative","scale":{"domain":[-3.073,3.29],"nice":false,"zero":false},"axis":{"values":[-3,-2,-1,0,1,2,3],"title":null}},
"y":{"field":"y","type":"quantitative","scale":{"domain":[-0.2,5.2],"nice":false,"zero":false},"axis":{"values":[0,1,2,3,4,5],"format":"d","title":null}}},
"layer":[
{"transform":[{"filter":"datum.g>0"}],"mark":{"type":"line","interpolate":"monotone","color":"#D95F02","strokeWidth":6,"opacity":0.18,"strokeCap":"round","clip":true},"encoding":{"detail":{"field":"g","type":"nominal"}}},
{"transform":[{"filter":"datum.g<0"}],"mark":{"type":"circle","size":150,"fill":"black","fillOpacity":0.17,"stroke":"black","strokeOpacity":0.22,"strokeWidth":1}},
{"transform":[{"filter":"datum.g==0"}],"mark":{"type":"line","interpolate":"monotone","color":"#D95F02","strokeWidth":4.5,"strokeCap":"round","clip":true}}]},
{"width":260,"height":249,"title":{"text":"g. self-directed"},"data":{"name":"pg"},
"encoding":{"x":{"field":"x","type":"quantitative","scale":{"domain":[-3.073,3.29],"nice":false,"zero":false},"axis":{"values":[-3,-2,-1,0,1,2,3],"title":null}},
"y":{"field":"y","type":"quantitative","scale":{"domain":[-0.2,5.2],"nice":false,"zero":false},"axis":{"values":[0,1,2,3,4,5],"format":"d","title":null}}},
"layer":[
{"transform":[{"filter":"datum.g>0"}],"mark":{"type":"line","interpolate":"monotone","color":"#7570B3","strokeWidth":6,"opacity":0.18,"strokeCap":"round","clip":true},"encoding":{"detail":{"field":"g","type":"nominal"}}},
{"transform":[{"filter":"datum.g<0"}],"mark":{"type":"circle","size":150,"fill":"black","fillOpacity":0.17,"stroke":"black","strokeOpacity":0.22,"strokeWidth":1}},
{"transform":[{"filter":"datum.g==0"}],"mark":{"type":"line","interpolate":"monotone","color":"#7570B3","strokeWidth":4.5,"strokeCap":"round","clip":true}}]},
{"width":260,"height":249,"title":{"text":"h. social"},"data":{"name":"ph"},
"encoding":{"x":{"field":"x","type":"quantitative","scale":{"domain":[-3.073,3.29],"nice":false,"zero":false},"axis":{"values":[-3,-2,-1,0,1,2,3],"title":null}},
"y":{"field":"y","type":"quantitative","scale":{"domain":[-0.2,5.2],"nice":false,"zero":false},"axis":{"values":[0,1,2,3,4,5],"format":"d","title":null}}},
"layer":[
{"transform":[{"filter":"datum.g>0"}],"mark":{"type":"line","interpolate":"monotone","color":"#E7298A","strokeWidth":6,"opacity":0.18,"strokeCap":"round","clip":true},"encoding":{"detail":{"field":"g","type":"nominal"}}},
{"transform":[{"filter":"datum.g<0"}],"mark":{"type":"circle","size":150,"fill":"black","fillOpacity":0.17,"stroke":"black","strokeOpacity":0.22,"strokeWidth":1}},
{"transform":[{"filter":"datum.g==0"}],"mark":{"type":"line","interpolate":"monotone","color":"#E7298A","strokeWidth":4.5,"strokeCap":"round","clip":true}}]}
],"spacing":36,"bounds":"flush"}
],
"spacing":22,
"config":{
"font":"Liberation Sans",
"view":{"stroke":"black","strokeWidth":2},
"axis":{"domain":false,"grid":false,"tickColor":"black","tickWidth":2,"tickSize":9,"labelColor":"black","labelFontSize":13,"labelFont":"Liberation Sans","titleFont":"Liberation Sans","titleFontSize":21.5,"titleFontWeight":"normal","titleColor":"black"},
"axisX":{"labelPadding":13,"labelExpr":"'' + datum.value"},
"axisY":{"labelAngle":-90,"labelPadding":6,"titlePadding":28},
"title":{"fontSize":18.5,"fontWeight":"normal","color":"black","font":"Liberation Sans","offset":-20,"baseline":"alphabetic","frame":"group"}
}
}
